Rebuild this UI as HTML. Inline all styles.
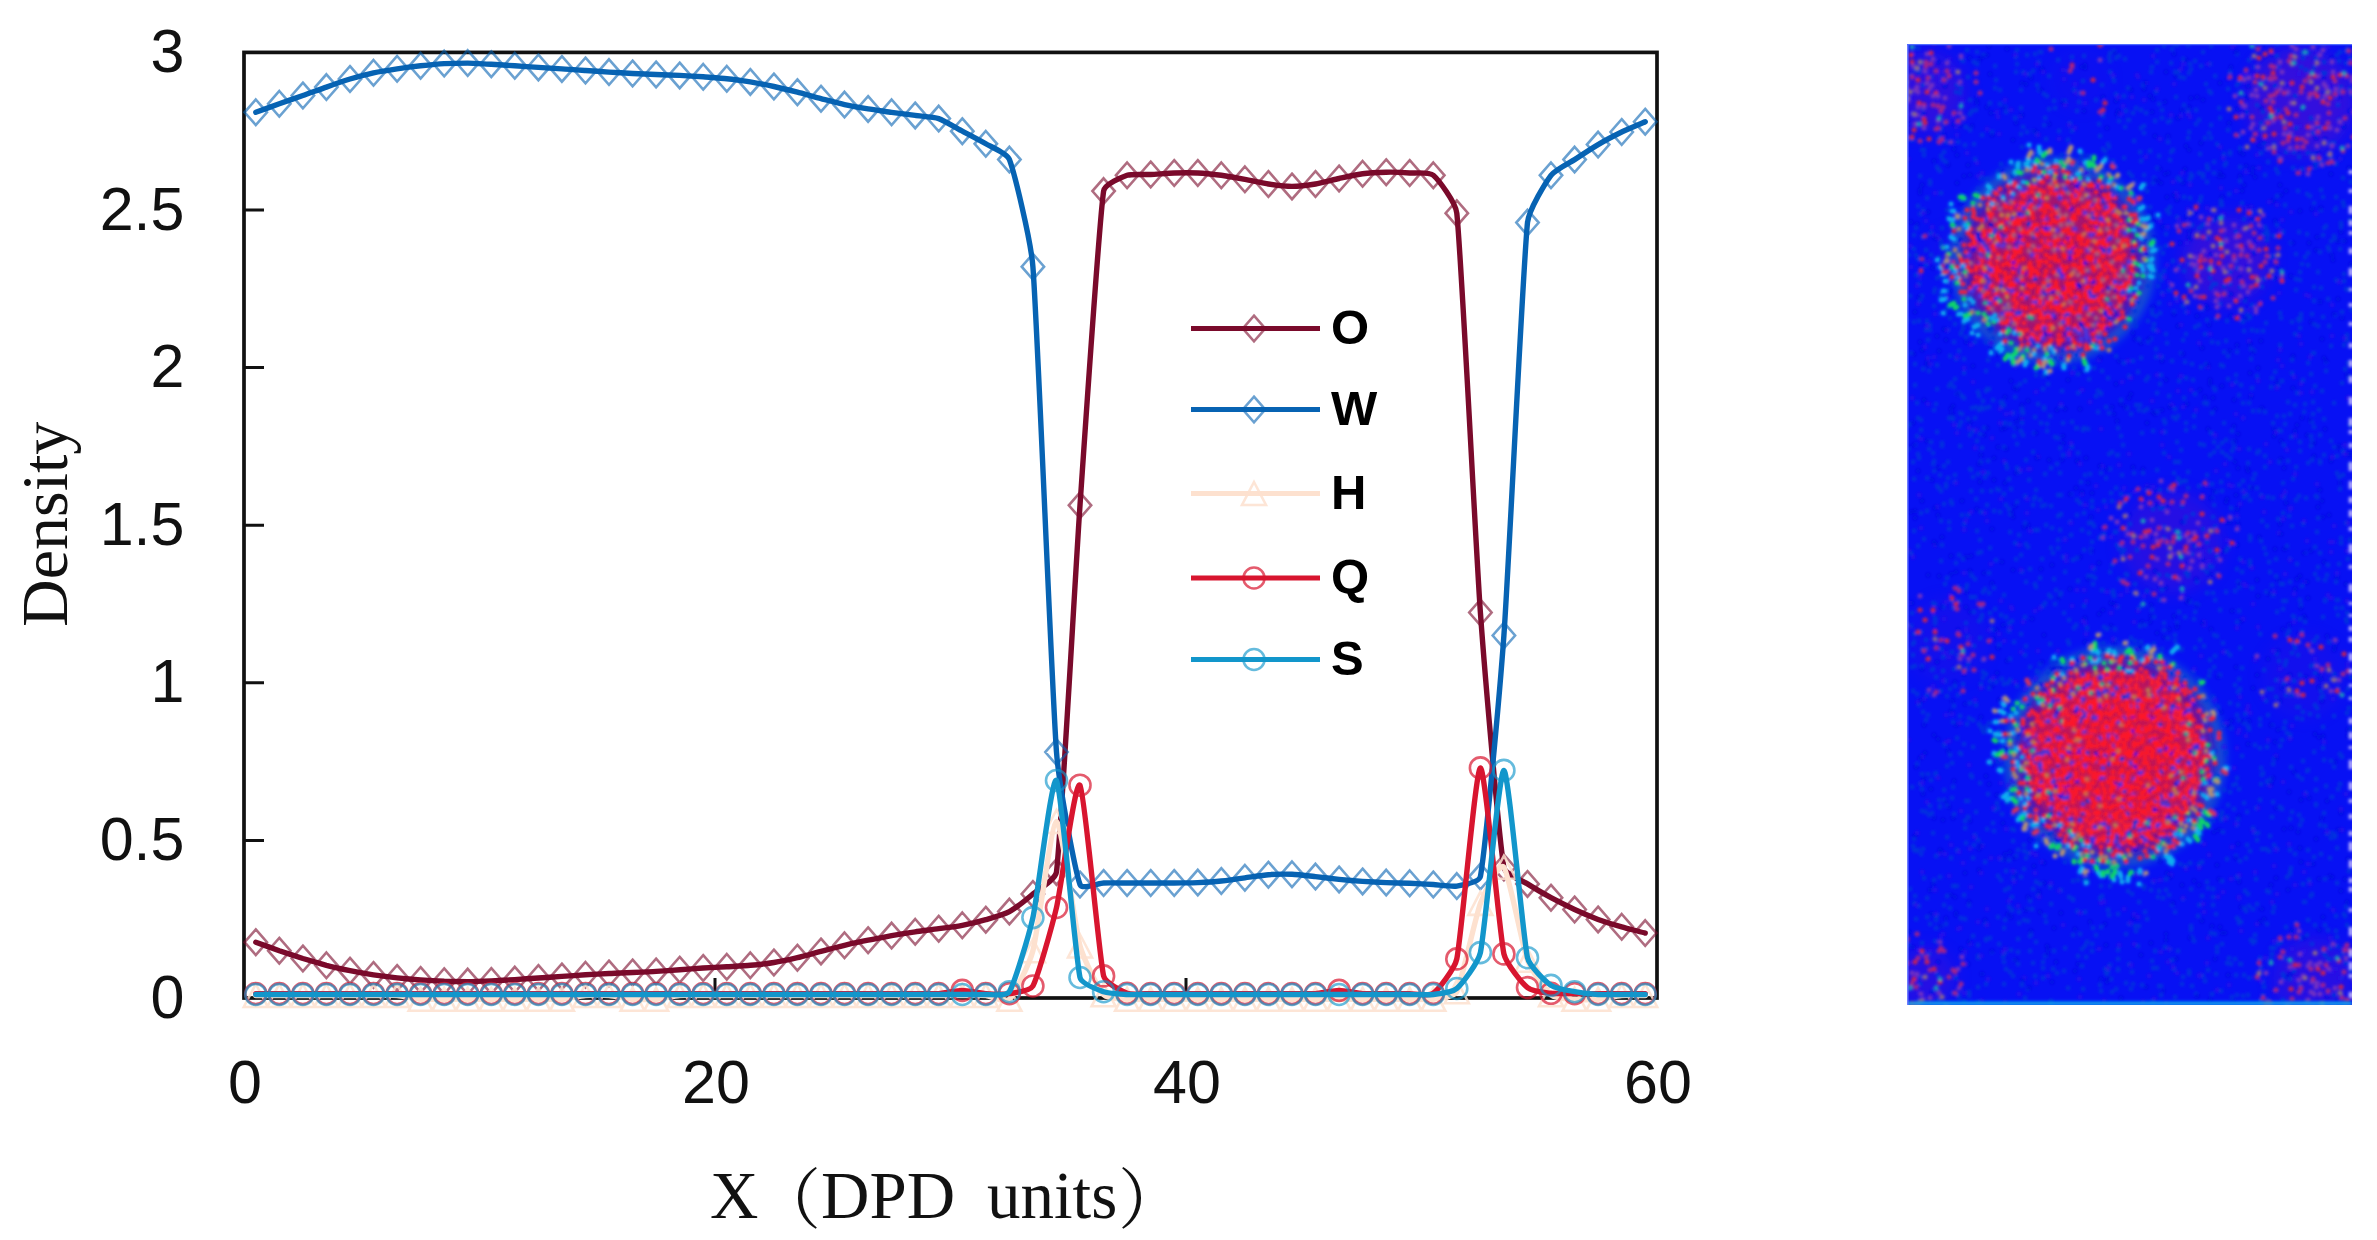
<!DOCTYPE html>
<html lang="en"><head><meta charset="utf-8"><title>Density profile</title>
<style>html,body{margin:0;padding:0;background:#fff}body{width:2377px;height:1240px;overflow:hidden}svg{display:block}.t{font-family:"Liberation Sans",sans-serif;font-size:61px;fill:#111}.s{font-family:"Liberation Serif","Noto Serif CJK SC",serif;font-size:67px;fill:#111}.p{font-family:"Noto Serif CJK SC","Liberation Serif",serif;font-size:66px;fill:#111}.l{font-family:"Liberation Sans",sans-serif;font-size:49px;font-weight:bold;fill:#000}</style></head><body>
<svg width="2377" height="1240" viewBox="0 0 2377 1240">
<rect width="2377" height="1240" fill="#fff"/>
<g fill="none" stroke="#111" stroke-width="3.7">
<rect x="244.0" y="52.4" width="1413.0" height="945.6"/>
<path stroke-width="3" d="M244.0 840.4 h20M244.0 682.8 h20M244.0 525.2 h20M244.0 367.6 h20M244.0 210.0 h20M715.0 998.0 v-20M1186.0 998.0 v-20"/>
</g>
<text class="t" x="184.5" y="1017.5" text-anchor="end">0</text>
<text class="t" x="184.5" y="859.9" text-anchor="end">0.5</text>
<text class="t" x="184.5" y="702.3" text-anchor="end">1</text>
<text class="t" x="184.5" y="544.7" text-anchor="end">1.5</text>
<text class="t" x="184.5" y="387.1" text-anchor="end">2</text>
<text class="t" x="184.5" y="229.5" text-anchor="end">2.5</text>
<text class="t" x="184.5" y="71.9" text-anchor="end">3</text>
<text class="t" x="245.0" y="1102.5" text-anchor="middle">0</text>
<text class="t" x="716.0" y="1102.5" text-anchor="middle">20</text>
<text class="t" x="1187.0" y="1102.5" text-anchor="middle">40</text>
<text class="t" x="1658.0" y="1102.5" text-anchor="middle">60</text>
<text class="s" style="font-size:66px" transform="translate(67 627) rotate(-90)">Density</text>
<text class="s" x="710" y="1218">X</text>
<text class="p" x="821" y="1222.5" text-anchor="end">（</text>
<text class="s" x="821" y="1218">DPD</text>
<text class="s" x="987" y="1218">units</text>
<text class="p" x="1118" y="1222.5">）</text>
<g fill="none" stroke-linejoin="round" stroke-linecap="round">
<path stroke="#7a0a2b" stroke-width="5.4" d="M255.8 942.2C258.1 943.1 274.6 949.0 279.3 950.7C284.0 952.3 298.2 957.0 302.9 958.5C307.6 959.9 321.7 964.0 326.4 965.3C331.1 966.5 345.3 969.7 350.0 970.7C354.7 971.7 368.8 974.2 373.5 974.9C378.2 975.6 392.4 977.4 397.1 977.9C401.8 978.4 415.9 979.6 420.6 979.9C425.3 980.2 439.5 981.0 444.2 981.2C448.9 981.3 463.0 981.6 467.7 981.6C472.4 981.6 486.6 981.1 491.3 980.9C496.0 980.7 510.1 979.9 514.8 979.6C519.5 979.3 533.7 978.3 538.4 978.0C543.1 977.7 557.2 976.7 561.9 976.4C566.6 976.1 580.8 975.1 585.5 974.8C590.2 974.5 604.3 973.7 609.0 973.5C613.7 973.2 627.9 972.7 632.6 972.5C637.3 972.3 651.4 971.7 656.1 971.4C660.8 971.1 675.0 970.1 679.7 969.7C684.4 969.4 698.5 968.3 703.2 968.0C707.9 967.7 722.1 967.0 726.8 966.8C731.5 966.5 745.6 965.7 750.3 965.3C755.0 964.9 769.2 963.3 773.9 962.5C778.6 961.8 792.7 958.8 797.4 957.7C802.1 956.6 816.3 952.6 821.0 951.4C825.7 950.1 839.8 946.4 844.5 945.3C849.2 944.2 863.4 941.1 868.1 940.2C872.8 939.2 886.9 936.5 891.6 935.6C896.3 934.8 910.5 932.5 915.2 931.8C919.9 931.1 934.0 929.4 938.7 928.7C943.4 928.1 957.6 926.2 962.3 925.3C967.0 924.4 981.1 921.1 985.8 919.7C990.5 918.3 1004.7 914.2 1009.4 911.6C1014.1 909.1 1028.2 898.0 1032.9 894.0C1037.6 890.0 1055.5 879.9 1056.5 871.9C1061.2 833.1 1075.3 573.4 1080.0 505.3C1084.7 437.3 1098.9 224.1 1103.6 191.1C1104.6 184.1 1122.4 177.0 1127.1 175.3C1131.8 173.7 1146.0 174.8 1150.7 174.5C1155.4 174.3 1169.5 173.1 1174.2 173.0C1178.9 172.8 1193.1 172.7 1197.8 173.0C1202.5 173.2 1216.6 174.7 1221.3 175.3C1226.0 176.0 1240.2 178.4 1244.9 179.3C1249.6 180.1 1263.7 183.3 1268.4 184.0C1273.1 184.7 1287.3 186.4 1292.0 186.4C1296.7 186.4 1310.8 184.8 1315.5 184.0C1320.2 183.2 1334.4 179.5 1339.1 178.5C1343.8 177.5 1357.9 174.4 1362.6 173.8C1367.3 173.1 1381.5 172.3 1386.2 172.2C1390.9 172.1 1405.0 172.6 1409.7 173.0C1414.4 173.3 1428.8 171.5 1433.3 175.3C1438.0 179.3 1455.6 202.1 1456.8 213.2C1461.5 256.9 1475.7 547.1 1480.4 612.5C1485.0 676.4 1499.2 840.4 1503.9 867.5C1505.2 874.6 1522.8 880.9 1527.5 883.9C1532.2 886.9 1546.3 895.1 1551.0 897.7C1555.7 900.2 1569.9 907.3 1574.6 909.5C1579.3 911.7 1593.4 917.6 1598.1 919.4C1602.8 921.1 1617.0 925.5 1621.7 926.8C1626.4 928.2 1642.9 932.4 1645.2 933.1"/>
<path stroke="#7a0a2b" stroke-opacity="0.6" stroke-width="2.6" stroke-linejoin="miter" d="M255.8 929.4 l11.2 12.8 l-11.2 12.8 l-11.2 -12.8 zM279.3 937.9 l11.2 12.8 l-11.2 12.8 l-11.2 -12.8 zM302.9 945.7 l11.2 12.8 l-11.2 12.8 l-11.2 -12.8 zM326.4 952.5 l11.2 12.8 l-11.2 12.8 l-11.2 -12.8 zM350.0 957.9 l11.2 12.8 l-11.2 12.8 l-11.2 -12.8 zM373.5 962.1 l11.2 12.8 l-11.2 12.8 l-11.2 -12.8 zM397.1 965.1 l11.2 12.8 l-11.2 12.8 l-11.2 -12.8 zM420.6 967.1 l11.2 12.8 l-11.2 12.8 l-11.2 -12.8 zM444.2 968.4 l11.2 12.8 l-11.2 12.8 l-11.2 -12.8 zM467.7 968.8 l11.2 12.8 l-11.2 12.8 l-11.2 -12.8 zM491.3 968.1 l11.2 12.8 l-11.2 12.8 l-11.2 -12.8 zM514.8 966.8 l11.2 12.8 l-11.2 12.8 l-11.2 -12.8 zM538.4 965.2 l11.2 12.8 l-11.2 12.8 l-11.2 -12.8 zM561.9 963.6 l11.2 12.8 l-11.2 12.8 l-11.2 -12.8 zM585.5 962.0 l11.2 12.8 l-11.2 12.8 l-11.2 -12.8 zM609.0 960.7 l11.2 12.8 l-11.2 12.8 l-11.2 -12.8 zM632.6 959.7 l11.2 12.8 l-11.2 12.8 l-11.2 -12.8 zM656.1 958.6 l11.2 12.8 l-11.2 12.8 l-11.2 -12.8 zM679.7 956.9 l11.2 12.8 l-11.2 12.8 l-11.2 -12.8 zM703.2 955.2 l11.2 12.8 l-11.2 12.8 l-11.2 -12.8 zM726.8 954.0 l11.2 12.8 l-11.2 12.8 l-11.2 -12.8 zM750.3 952.5 l11.2 12.8 l-11.2 12.8 l-11.2 -12.8 zM773.9 949.7 l11.2 12.8 l-11.2 12.8 l-11.2 -12.8 zM797.4 944.9 l11.2 12.8 l-11.2 12.8 l-11.2 -12.8 zM821.0 938.6 l11.2 12.8 l-11.2 12.8 l-11.2 -12.8 zM844.5 932.5 l11.2 12.8 l-11.2 12.8 l-11.2 -12.8 zM868.1 927.4 l11.2 12.8 l-11.2 12.8 l-11.2 -12.8 zM891.6 922.8 l11.2 12.8 l-11.2 12.8 l-11.2 -12.8 zM915.2 919.0 l11.2 12.8 l-11.2 12.8 l-11.2 -12.8 zM938.7 915.9 l11.2 12.8 l-11.2 12.8 l-11.2 -12.8 zM962.3 912.5 l11.2 12.8 l-11.2 12.8 l-11.2 -12.8 zM985.8 906.9 l11.2 12.8 l-11.2 12.8 l-11.2 -12.8 zM1009.4 898.8 l11.2 12.8 l-11.2 12.8 l-11.2 -12.8 zM1032.9 881.2 l11.2 12.8 l-11.2 12.8 l-11.2 -12.8 zM1056.5 859.1 l11.2 12.8 l-11.2 12.8 l-11.2 -12.8 zM1080.0 492.5 l11.2 12.8 l-11.2 12.8 l-11.2 -12.8 zM1103.6 178.3 l11.2 12.8 l-11.2 12.8 l-11.2 -12.8 zM1127.1 162.5 l11.2 12.8 l-11.2 12.8 l-11.2 -12.8 zM1150.7 161.7 l11.2 12.8 l-11.2 12.8 l-11.2 -12.8 zM1174.2 160.2 l11.2 12.8 l-11.2 12.8 l-11.2 -12.8 zM1197.8 160.2 l11.2 12.8 l-11.2 12.8 l-11.2 -12.8 zM1221.3 162.5 l11.2 12.8 l-11.2 12.8 l-11.2 -12.8 zM1244.9 166.5 l11.2 12.8 l-11.2 12.8 l-11.2 -12.8 zM1268.4 171.2 l11.2 12.8 l-11.2 12.8 l-11.2 -12.8 zM1292.0 173.6 l11.2 12.8 l-11.2 12.8 l-11.2 -12.8 zM1315.5 171.2 l11.2 12.8 l-11.2 12.8 l-11.2 -12.8 zM1339.1 165.7 l11.2 12.8 l-11.2 12.8 l-11.2 -12.8 zM1362.6 161.0 l11.2 12.8 l-11.2 12.8 l-11.2 -12.8 zM1386.2 159.4 l11.2 12.8 l-11.2 12.8 l-11.2 -12.8 zM1409.7 160.2 l11.2 12.8 l-11.2 12.8 l-11.2 -12.8 zM1433.3 162.5 l11.2 12.8 l-11.2 12.8 l-11.2 -12.8 zM1456.8 200.4 l11.2 12.8 l-11.2 12.8 l-11.2 -12.8 zM1480.4 599.7 l11.2 12.8 l-11.2 12.8 l-11.2 -12.8 zM1503.9 854.7 l11.2 12.8 l-11.2 12.8 l-11.2 -12.8 zM1527.5 871.1 l11.2 12.8 l-11.2 12.8 l-11.2 -12.8 zM1551.0 884.9 l11.2 12.8 l-11.2 12.8 l-11.2 -12.8 zM1574.6 896.7 l11.2 12.8 l-11.2 12.8 l-11.2 -12.8 zM1598.1 906.6 l11.2 12.8 l-11.2 12.8 l-11.2 -12.8 zM1621.7 914.0 l11.2 12.8 l-11.2 12.8 l-11.2 -12.8 zM1645.2 920.3 l11.2 12.8 l-11.2 12.8 l-11.2 -12.8 z"/>
<path stroke="#0763b3" stroke-width="5.4" d="M255.8 112.3C258.1 111.4 274.6 105.5 279.3 103.8C284.0 102.1 298.2 97.2 302.9 95.5C307.6 93.9 321.7 88.7 326.4 87.1C331.1 85.4 345.3 80.4 350.0 79.0C354.7 77.6 368.8 73.8 373.5 72.8C378.2 71.8 392.4 69.5 397.1 68.8C401.8 68.1 415.9 66.3 420.6 65.8C425.3 65.3 439.5 63.9 444.2 63.6C448.9 63.4 463.0 63.1 467.7 63.1C472.4 63.2 486.6 64.0 491.3 64.2C496.0 64.5 510.1 65.5 514.8 65.8C519.5 66.1 533.7 67.1 538.4 67.4C543.1 67.7 557.2 68.6 561.9 68.9C566.6 69.3 580.8 70.2 585.5 70.5C590.2 70.8 604.3 71.8 609.0 72.1C613.7 72.4 627.9 73.2 632.6 73.5C637.3 73.7 651.4 74.3 656.1 74.5C660.8 74.7 675.0 75.2 679.7 75.4C684.4 75.7 698.5 76.5 703.2 76.8C707.9 77.2 722.1 78.3 726.8 78.8C731.5 79.3 745.6 81.2 750.3 81.9C755.0 82.7 769.2 85.5 773.9 86.5C778.6 87.5 792.7 91.0 797.4 92.2C802.1 93.4 816.3 97.5 821.0 98.7C825.7 99.9 839.8 103.6 844.5 104.6C849.2 105.6 863.4 108.2 868.1 108.9C872.8 109.7 886.9 111.6 891.6 112.3C896.3 112.9 910.5 114.8 915.2 115.4C919.9 116.1 934.0 117.0 938.7 118.6C943.4 120.2 957.6 128.7 962.3 131.2C967.0 133.7 981.1 141.0 985.8 143.8C990.5 146.6 1006.8 153.0 1009.4 159.6C1014.1 171.9 1030.8 239.4 1032.9 266.7C1037.6 326.0 1051.8 690.4 1056.5 752.1C1059.0 785.7 1075.3 871.4 1080.0 884.5C1082.0 890.1 1098.9 883.1 1103.6 883.0C1108.3 882.8 1122.4 883.0 1127.1 883.0C1131.8 883.0 1146.0 883.0 1150.7 883.0C1155.4 883.0 1169.5 883.0 1174.2 883.0C1178.9 882.9 1193.1 882.8 1197.8 882.6C1202.5 882.4 1216.6 881.5 1221.3 881.0C1226.0 880.5 1240.2 878.5 1244.9 877.8C1249.6 877.2 1263.7 875.0 1268.4 874.7C1273.1 874.3 1287.3 874.1 1292.0 874.3C1296.7 874.5 1310.8 876.1 1315.5 876.6C1320.2 877.2 1334.4 878.9 1339.1 879.4C1343.8 879.9 1357.9 881.1 1362.6 881.4C1367.3 881.7 1381.5 882.4 1386.2 882.6C1390.9 882.8 1405.0 883.1 1409.7 883.3C1414.4 883.5 1428.6 884.3 1433.3 884.5C1438.0 884.8 1452.1 886.9 1456.8 886.1C1461.5 885.3 1479.2 882.9 1480.4 876.6C1485.1 851.6 1499.6 695.9 1503.9 635.5C1508.6 570.1 1522.8 268.6 1527.5 222.6C1528.8 209.5 1546.3 181.6 1551.0 175.3C1555.3 169.7 1569.9 162.6 1574.6 159.6C1579.3 156.5 1593.4 147.4 1598.1 144.6C1602.8 141.8 1617.0 134.3 1621.7 132.0C1626.4 129.7 1642.9 122.8 1645.2 121.7"/>
<path stroke="#0763b3" stroke-opacity="0.6" stroke-width="2.6" stroke-linejoin="miter" d="M255.8 99.5 l11.2 12.8 l-11.2 12.8 l-11.2 -12.8 zM279.3 91.0 l11.2 12.8 l-11.2 12.8 l-11.2 -12.8 zM302.9 82.7 l11.2 12.8 l-11.2 12.8 l-11.2 -12.8 zM326.4 74.3 l11.2 12.8 l-11.2 12.8 l-11.2 -12.8 zM350.0 66.2 l11.2 12.8 l-11.2 12.8 l-11.2 -12.8 zM373.5 60.0 l11.2 12.8 l-11.2 12.8 l-11.2 -12.8 zM397.1 56.0 l11.2 12.8 l-11.2 12.8 l-11.2 -12.8 zM420.6 53.0 l11.2 12.8 l-11.2 12.8 l-11.2 -12.8 zM444.2 50.8 l11.2 12.8 l-11.2 12.8 l-11.2 -12.8 zM467.7 50.3 l11.2 12.8 l-11.2 12.8 l-11.2 -12.8 zM491.3 51.4 l11.2 12.8 l-11.2 12.8 l-11.2 -12.8 zM514.8 53.0 l11.2 12.8 l-11.2 12.8 l-11.2 -12.8 zM538.4 54.6 l11.2 12.8 l-11.2 12.8 l-11.2 -12.8 zM561.9 56.1 l11.2 12.8 l-11.2 12.8 l-11.2 -12.8 zM585.5 57.7 l11.2 12.8 l-11.2 12.8 l-11.2 -12.8 zM609.0 59.3 l11.2 12.8 l-11.2 12.8 l-11.2 -12.8 zM632.6 60.7 l11.2 12.8 l-11.2 12.8 l-11.2 -12.8 zM656.1 61.7 l11.2 12.8 l-11.2 12.8 l-11.2 -12.8 zM679.7 62.6 l11.2 12.8 l-11.2 12.8 l-11.2 -12.8 zM703.2 64.0 l11.2 12.8 l-11.2 12.8 l-11.2 -12.8 zM726.8 66.0 l11.2 12.8 l-11.2 12.8 l-11.2 -12.8 zM750.3 69.1 l11.2 12.8 l-11.2 12.8 l-11.2 -12.8 zM773.9 73.7 l11.2 12.8 l-11.2 12.8 l-11.2 -12.8 zM797.4 79.4 l11.2 12.8 l-11.2 12.8 l-11.2 -12.8 zM821.0 85.9 l11.2 12.8 l-11.2 12.8 l-11.2 -12.8 zM844.5 91.8 l11.2 12.8 l-11.2 12.8 l-11.2 -12.8 zM868.1 96.1 l11.2 12.8 l-11.2 12.8 l-11.2 -12.8 zM891.6 99.5 l11.2 12.8 l-11.2 12.8 l-11.2 -12.8 zM915.2 102.6 l11.2 12.8 l-11.2 12.8 l-11.2 -12.8 zM938.7 105.8 l11.2 12.8 l-11.2 12.8 l-11.2 -12.8 zM962.3 118.4 l11.2 12.8 l-11.2 12.8 l-11.2 -12.8 zM985.8 131.0 l11.2 12.8 l-11.2 12.8 l-11.2 -12.8 zM1009.4 146.8 l11.2 12.8 l-11.2 12.8 l-11.2 -12.8 zM1032.9 253.9 l11.2 12.8 l-11.2 12.8 l-11.2 -12.8 zM1056.5 739.3 l11.2 12.8 l-11.2 12.8 l-11.2 -12.8 zM1080.0 871.7 l11.2 12.8 l-11.2 12.8 l-11.2 -12.8 zM1103.6 870.2 l11.2 12.8 l-11.2 12.8 l-11.2 -12.8 zM1127.1 870.2 l11.2 12.8 l-11.2 12.8 l-11.2 -12.8 zM1150.7 870.2 l11.2 12.8 l-11.2 12.8 l-11.2 -12.8 zM1174.2 870.2 l11.2 12.8 l-11.2 12.8 l-11.2 -12.8 zM1197.8 869.8 l11.2 12.8 l-11.2 12.8 l-11.2 -12.8 zM1221.3 868.2 l11.2 12.8 l-11.2 12.8 l-11.2 -12.8 zM1244.9 865.0 l11.2 12.8 l-11.2 12.8 l-11.2 -12.8 zM1268.4 861.9 l11.2 12.8 l-11.2 12.8 l-11.2 -12.8 zM1292.0 861.5 l11.2 12.8 l-11.2 12.8 l-11.2 -12.8 zM1315.5 863.8 l11.2 12.8 l-11.2 12.8 l-11.2 -12.8 zM1339.1 866.6 l11.2 12.8 l-11.2 12.8 l-11.2 -12.8 zM1362.6 868.6 l11.2 12.8 l-11.2 12.8 l-11.2 -12.8 zM1386.2 869.8 l11.2 12.8 l-11.2 12.8 l-11.2 -12.8 zM1409.7 870.5 l11.2 12.8 l-11.2 12.8 l-11.2 -12.8 zM1433.3 871.7 l11.2 12.8 l-11.2 12.8 l-11.2 -12.8 zM1456.8 873.3 l11.2 12.8 l-11.2 12.8 l-11.2 -12.8 zM1480.4 863.8 l11.2 12.8 l-11.2 12.8 l-11.2 -12.8 zM1503.9 622.7 l11.2 12.8 l-11.2 12.8 l-11.2 -12.8 zM1527.5 209.8 l11.2 12.8 l-11.2 12.8 l-11.2 -12.8 zM1551.0 162.5 l11.2 12.8 l-11.2 12.8 l-11.2 -12.8 zM1574.6 146.8 l11.2 12.8 l-11.2 12.8 l-11.2 -12.8 zM1598.1 131.8 l11.2 12.8 l-11.2 12.8 l-11.2 -12.8 zM1621.7 119.2 l11.2 12.8 l-11.2 12.8 l-11.2 -12.8 zM1645.2 108.9 l11.2 12.8 l-11.2 12.8 l-11.2 -12.8 z"/>
<path stroke="#fde1cf" stroke-width="5.4" d="M255.8 995.5C258.1 995.5 274.6 995.5 279.3 995.5C284.0 995.5 298.2 995.5 302.9 995.5C307.6 995.5 321.7 995.5 326.4 995.5C331.1 995.5 345.3 995.5 350.0 995.5C354.7 995.5 368.8 995.5 373.5 995.5C378.2 995.5 392.4 995.1 397.1 995.5C401.8 995.9 415.9 998.9 420.6 999.3C425.3 999.6 439.5 999.3 444.2 999.3C448.9 999.3 463.0 999.3 467.7 999.3C472.4 999.3 486.6 999.3 491.3 999.3C496.0 999.3 510.1 999.3 514.8 999.3C519.5 999.3 533.7 999.3 538.4 999.3C543.1 999.3 557.2 999.6 561.9 999.3C566.6 998.9 580.8 995.9 585.5 995.5C590.2 995.1 604.3 995.1 609.0 995.5C613.7 995.9 627.9 998.9 632.6 999.3C637.3 999.6 651.4 999.6 656.1 999.3C660.8 998.9 675.0 995.9 679.7 995.5C684.4 995.1 698.5 995.5 703.2 995.5C707.9 995.5 722.1 995.5 726.8 995.5C731.5 995.5 745.6 995.5 750.3 995.5C755.0 995.5 769.2 995.5 773.9 995.5C778.6 995.5 792.7 995.5 797.4 995.5C802.1 995.5 816.3 995.5 821.0 995.5C825.7 995.5 839.8 995.5 844.5 995.5C849.2 995.5 863.4 995.5 868.1 995.5C872.8 995.5 886.9 995.5 891.6 995.5C896.3 995.5 910.5 995.5 915.2 995.5C919.9 995.5 934.0 995.5 938.7 995.5C943.4 995.5 957.6 995.5 962.3 995.5C967.0 995.5 981.1 995.1 985.8 995.5C990.5 995.9 1005.1 1003.4 1009.4 999.3C1014.1 994.8 1029.5 963.8 1032.9 950.7C1037.6 932.9 1051.8 822.0 1056.5 821.5C1061.2 821.0 1075.3 928.7 1080.0 946.0C1083.6 959.1 1098.9 989.5 1103.6 994.8C1107.5 999.3 1122.4 998.8 1127.1 999.3C1131.8 999.7 1146.0 999.3 1150.7 999.3C1155.4 999.3 1169.5 999.3 1174.2 999.3C1178.9 999.3 1193.1 999.3 1197.8 999.3C1202.5 999.3 1216.6 999.3 1221.3 999.3C1226.0 999.3 1240.2 999.3 1244.9 999.3C1249.6 999.3 1263.7 999.3 1268.4 999.3C1273.1 999.3 1287.3 999.3 1292.0 999.3C1296.7 999.3 1310.8 999.3 1315.5 999.3C1320.2 999.3 1334.4 999.3 1339.1 999.3C1343.8 999.3 1357.9 999.3 1362.6 999.3C1367.3 999.3 1381.5 999.3 1386.2 999.3C1390.9 999.3 1405.0 999.3 1409.7 999.3C1414.4 999.3 1428.6 1000.0 1433.3 999.3C1438.0 998.5 1454.1 997.2 1456.8 991.7C1461.5 982.1 1475.7 915.9 1480.4 903.4C1484.2 893.3 1499.2 861.5 1503.9 867.2C1508.6 872.9 1522.8 947.4 1527.5 960.2C1531.1 970.0 1546.3 990.9 1551.0 994.8C1555.6 998.7 1569.9 998.8 1574.6 999.3C1579.3 999.7 1593.4 999.6 1598.1 999.3C1602.8 998.9 1617.0 995.9 1621.7 995.5C1626.4 995.1 1642.9 995.5 1645.2 995.5"/>
<path stroke="#fde1cf" stroke-opacity="0.85" stroke-width="2.6" stroke-linejoin="miter" d="M255.8 984.0 l12 23 h-24 zM279.3 984.0 l12 23 h-24 zM302.9 984.0 l12 23 h-24 zM326.4 984.0 l12 23 h-24 zM350.0 984.0 l12 23 h-24 zM373.5 984.0 l12 23 h-24 zM397.1 984.0 l12 23 h-24 zM420.6 987.8 l12 23 h-24 zM444.2 987.8 l12 23 h-24 zM467.7 987.8 l12 23 h-24 zM491.3 987.8 l12 23 h-24 zM514.8 987.8 l12 23 h-24 zM538.4 987.8 l12 23 h-24 zM561.9 987.8 l12 23 h-24 zM585.5 984.0 l12 23 h-24 zM609.0 984.0 l12 23 h-24 zM632.6 987.8 l12 23 h-24 zM656.1 987.8 l12 23 h-24 zM679.7 984.0 l12 23 h-24 zM703.2 984.0 l12 23 h-24 zM726.8 984.0 l12 23 h-24 zM750.3 984.0 l12 23 h-24 zM773.9 984.0 l12 23 h-24 zM797.4 984.0 l12 23 h-24 zM821.0 984.0 l12 23 h-24 zM844.5 984.0 l12 23 h-24 zM868.1 984.0 l12 23 h-24 zM891.6 984.0 l12 23 h-24 zM915.2 984.0 l12 23 h-24 zM938.7 984.0 l12 23 h-24 zM962.3 984.0 l12 23 h-24 zM985.8 984.0 l12 23 h-24 zM1009.4 987.8 l12 23 h-24 zM1032.9 939.2 l12 23 h-24 zM1056.5 810.0 l12 23 h-24 zM1080.0 934.5 l12 23 h-24 zM1103.6 983.3 l12 23 h-24 zM1127.1 987.8 l12 23 h-24 zM1150.7 987.8 l12 23 h-24 zM1174.2 987.8 l12 23 h-24 zM1197.8 987.8 l12 23 h-24 zM1221.3 987.8 l12 23 h-24 zM1244.9 987.8 l12 23 h-24 zM1268.4 987.8 l12 23 h-24 zM1292.0 987.8 l12 23 h-24 zM1315.5 987.8 l12 23 h-24 zM1339.1 987.8 l12 23 h-24 zM1362.6 987.8 l12 23 h-24 zM1386.2 987.8 l12 23 h-24 zM1409.7 987.8 l12 23 h-24 zM1433.3 987.8 l12 23 h-24 zM1456.8 980.2 l12 23 h-24 zM1480.4 891.9 l12 23 h-24 zM1503.9 855.7 l12 23 h-24 zM1527.5 948.7 l12 23 h-24 zM1551.0 983.3 l12 23 h-24 zM1574.6 987.8 l12 23 h-24 zM1598.1 987.8 l12 23 h-24 zM1621.7 984.0 l12 23 h-24 zM1645.2 984.0 l12 23 h-24 z"/>
<path stroke="#d8152f" stroke-width="5.4" d="M255.8 993.6C258.1 993.6 274.6 993.6 279.3 993.6C284.0 993.6 298.2 993.6 302.9 993.6C307.6 993.6 321.7 993.6 326.4 993.6C331.1 993.6 345.3 993.6 350.0 993.6C354.7 993.6 368.8 993.6 373.5 993.6C378.2 993.6 392.4 993.6 397.1 993.6C401.8 993.6 415.9 993.6 420.6 993.6C425.3 993.6 439.5 993.6 444.2 993.6C448.9 993.6 463.0 993.6 467.7 993.6C472.4 993.6 486.6 993.6 491.3 993.6C496.0 993.6 510.1 993.6 514.8 993.6C519.5 993.6 533.7 993.6 538.4 993.6C543.1 993.6 557.2 993.6 561.9 993.6C566.6 993.6 580.8 993.6 585.5 993.6C590.2 993.6 604.3 993.6 609.0 993.6C613.7 993.6 627.9 993.6 632.6 993.6C637.3 993.6 651.4 993.6 656.1 993.6C660.8 993.6 675.0 993.6 679.7 993.6C684.4 993.6 698.5 993.6 703.2 993.6C707.9 993.6 722.1 993.6 726.8 993.6C731.5 993.6 745.6 993.6 750.3 993.6C755.0 993.6 769.2 993.6 773.9 993.6C778.6 993.6 792.7 993.6 797.4 993.6C802.1 993.6 816.3 993.6 821.0 993.6C825.7 993.6 839.8 993.6 844.5 993.6C849.2 993.6 863.4 993.6 868.1 993.6C872.8 993.6 886.9 993.6 891.6 993.6C896.3 993.6 910.5 993.6 915.2 993.6C919.9 993.6 934.0 993.9 938.7 993.6C943.4 993.3 957.6 990.4 962.3 990.4C967.0 990.4 981.1 993.3 985.8 993.6C990.5 993.9 1004.7 994.3 1009.4 993.6C1014.1 992.8 1030.0 991.4 1032.9 986.0C1037.6 977.4 1051.8 927.5 1056.5 907.5C1061.2 887.5 1075.3 778.4 1080.0 785.2C1084.7 792.1 1098.9 955.1 1103.6 975.9C1105.2 983.1 1122.4 991.5 1127.1 993.3C1131.8 995.0 1146.0 993.6 1150.7 993.6C1155.4 993.6 1169.5 993.6 1174.2 993.6C1178.9 993.6 1193.1 993.6 1197.8 993.6C1202.5 993.6 1216.6 993.6 1221.3 993.6C1226.0 993.6 1240.2 993.6 1244.9 993.6C1249.6 993.6 1263.7 993.6 1268.4 993.6C1273.1 993.6 1287.3 993.6 1292.0 993.6C1296.7 993.6 1310.8 993.9 1315.5 993.6C1320.2 993.3 1334.4 990.4 1339.1 990.4C1343.8 990.4 1357.9 993.3 1362.6 993.6C1367.3 993.9 1381.5 993.6 1386.2 993.6C1390.9 993.6 1405.0 993.6 1409.7 993.6C1414.4 993.6 1428.6 996.7 1433.3 993.3C1438.0 989.8 1454.7 969.1 1456.8 958.9C1461.5 936.4 1475.7 768.4 1480.4 767.9C1485.1 767.4 1499.2 931.9 1503.9 953.9C1506.1 963.9 1522.8 983.7 1527.5 987.6C1532.1 991.5 1546.3 992.7 1551.0 993.3C1555.7 993.9 1569.9 993.6 1574.6 993.6C1579.3 993.6 1593.4 993.6 1598.1 993.6C1602.8 993.6 1617.0 993.6 1621.7 993.6C1626.4 993.6 1642.9 993.6 1645.2 993.6"/>
<path stroke="#d8152f" stroke-opacity="0.7" stroke-width="2.6" stroke-linejoin="miter" d="M245.3 993.6 a10.5 10.5 0 1 0 21 0 a10.5 10.5 0 1 0 -21 0M268.8 993.6 a10.5 10.5 0 1 0 21 0 a10.5 10.5 0 1 0 -21 0M292.4 993.6 a10.5 10.5 0 1 0 21 0 a10.5 10.5 0 1 0 -21 0M315.9 993.6 a10.5 10.5 0 1 0 21 0 a10.5 10.5 0 1 0 -21 0M339.5 993.6 a10.5 10.5 0 1 0 21 0 a10.5 10.5 0 1 0 -21 0M363.0 993.6 a10.5 10.5 0 1 0 21 0 a10.5 10.5 0 1 0 -21 0M386.6 993.6 a10.5 10.5 0 1 0 21 0 a10.5 10.5 0 1 0 -21 0M410.1 993.6 a10.5 10.5 0 1 0 21 0 a10.5 10.5 0 1 0 -21 0M433.7 993.6 a10.5 10.5 0 1 0 21 0 a10.5 10.5 0 1 0 -21 0M457.2 993.6 a10.5 10.5 0 1 0 21 0 a10.5 10.5 0 1 0 -21 0M480.8 993.6 a10.5 10.5 0 1 0 21 0 a10.5 10.5 0 1 0 -21 0M504.3 993.6 a10.5 10.5 0 1 0 21 0 a10.5 10.5 0 1 0 -21 0M527.9 993.6 a10.5 10.5 0 1 0 21 0 a10.5 10.5 0 1 0 -21 0M551.4 993.6 a10.5 10.5 0 1 0 21 0 a10.5 10.5 0 1 0 -21 0M575.0 993.6 a10.5 10.5 0 1 0 21 0 a10.5 10.5 0 1 0 -21 0M598.5 993.6 a10.5 10.5 0 1 0 21 0 a10.5 10.5 0 1 0 -21 0M622.1 993.6 a10.5 10.5 0 1 0 21 0 a10.5 10.5 0 1 0 -21 0M645.6 993.6 a10.5 10.5 0 1 0 21 0 a10.5 10.5 0 1 0 -21 0M669.2 993.6 a10.5 10.5 0 1 0 21 0 a10.5 10.5 0 1 0 -21 0M692.7 993.6 a10.5 10.5 0 1 0 21 0 a10.5 10.5 0 1 0 -21 0M716.3 993.6 a10.5 10.5 0 1 0 21 0 a10.5 10.5 0 1 0 -21 0M739.8 993.6 a10.5 10.5 0 1 0 21 0 a10.5 10.5 0 1 0 -21 0M763.4 993.6 a10.5 10.5 0 1 0 21 0 a10.5 10.5 0 1 0 -21 0M786.9 993.6 a10.5 10.5 0 1 0 21 0 a10.5 10.5 0 1 0 -21 0M810.5 993.6 a10.5 10.5 0 1 0 21 0 a10.5 10.5 0 1 0 -21 0M834.0 993.6 a10.5 10.5 0 1 0 21 0 a10.5 10.5 0 1 0 -21 0M857.6 993.6 a10.5 10.5 0 1 0 21 0 a10.5 10.5 0 1 0 -21 0M881.1 993.6 a10.5 10.5 0 1 0 21 0 a10.5 10.5 0 1 0 -21 0M904.7 993.6 a10.5 10.5 0 1 0 21 0 a10.5 10.5 0 1 0 -21 0M928.2 993.6 a10.5 10.5 0 1 0 21 0 a10.5 10.5 0 1 0 -21 0M951.8 990.4 a10.5 10.5 0 1 0 21 0 a10.5 10.5 0 1 0 -21 0M975.3 993.6 a10.5 10.5 0 1 0 21 0 a10.5 10.5 0 1 0 -21 0M998.9 993.6 a10.5 10.5 0 1 0 21 0 a10.5 10.5 0 1 0 -21 0M1022.4 986.0 a10.5 10.5 0 1 0 21 0 a10.5 10.5 0 1 0 -21 0M1046.0 907.5 a10.5 10.5 0 1 0 21 0 a10.5 10.5 0 1 0 -21 0M1069.5 785.2 a10.5 10.5 0 1 0 21 0 a10.5 10.5 0 1 0 -21 0M1093.1 975.9 a10.5 10.5 0 1 0 21 0 a10.5 10.5 0 1 0 -21 0M1116.6 993.3 a10.5 10.5 0 1 0 21 0 a10.5 10.5 0 1 0 -21 0M1140.2 993.6 a10.5 10.5 0 1 0 21 0 a10.5 10.5 0 1 0 -21 0M1163.7 993.6 a10.5 10.5 0 1 0 21 0 a10.5 10.5 0 1 0 -21 0M1187.3 993.6 a10.5 10.5 0 1 0 21 0 a10.5 10.5 0 1 0 -21 0M1210.8 993.6 a10.5 10.5 0 1 0 21 0 a10.5 10.5 0 1 0 -21 0M1234.4 993.6 a10.5 10.5 0 1 0 21 0 a10.5 10.5 0 1 0 -21 0M1257.9 993.6 a10.5 10.5 0 1 0 21 0 a10.5 10.5 0 1 0 -21 0M1281.5 993.6 a10.5 10.5 0 1 0 21 0 a10.5 10.5 0 1 0 -21 0M1305.0 993.6 a10.5 10.5 0 1 0 21 0 a10.5 10.5 0 1 0 -21 0M1328.6 990.4 a10.5 10.5 0 1 0 21 0 a10.5 10.5 0 1 0 -21 0M1352.1 993.6 a10.5 10.5 0 1 0 21 0 a10.5 10.5 0 1 0 -21 0M1375.7 993.6 a10.5 10.5 0 1 0 21 0 a10.5 10.5 0 1 0 -21 0M1399.2 993.6 a10.5 10.5 0 1 0 21 0 a10.5 10.5 0 1 0 -21 0M1422.8 993.3 a10.5 10.5 0 1 0 21 0 a10.5 10.5 0 1 0 -21 0M1446.3 958.9 a10.5 10.5 0 1 0 21 0 a10.5 10.5 0 1 0 -21 0M1469.9 767.9 a10.5 10.5 0 1 0 21 0 a10.5 10.5 0 1 0 -21 0M1493.4 953.9 a10.5 10.5 0 1 0 21 0 a10.5 10.5 0 1 0 -21 0M1517.0 987.6 a10.5 10.5 0 1 0 21 0 a10.5 10.5 0 1 0 -21 0M1540.5 993.3 a10.5 10.5 0 1 0 21 0 a10.5 10.5 0 1 0 -21 0M1564.1 993.6 a10.5 10.5 0 1 0 21 0 a10.5 10.5 0 1 0 -21 0M1587.6 993.6 a10.5 10.5 0 1 0 21 0 a10.5 10.5 0 1 0 -21 0M1611.2 993.6 a10.5 10.5 0 1 0 21 0 a10.5 10.5 0 1 0 -21 0M1634.7 993.6 a10.5 10.5 0 1 0 21 0 a10.5 10.5 0 1 0 -21 0"/>
<path stroke="#1296cb" stroke-width="5.4" d="M255.8 994.5C258.1 994.5 274.6 994.5 279.3 994.5C284.0 994.5 298.2 994.5 302.9 994.5C307.6 994.5 321.7 994.5 326.4 994.5C331.1 994.5 345.3 994.5 350.0 994.5C354.7 994.5 368.8 994.5 373.5 994.5C378.2 994.5 392.4 994.5 397.1 994.5C401.8 994.5 415.9 994.5 420.6 994.5C425.3 994.5 439.5 994.5 444.2 994.5C448.9 994.5 463.0 994.5 467.7 994.5C472.4 994.5 486.6 994.5 491.3 994.5C496.0 994.5 510.1 994.5 514.8 994.5C519.5 994.5 533.7 994.5 538.4 994.5C543.1 994.5 557.2 994.5 561.9 994.5C566.6 994.5 580.8 994.5 585.5 994.5C590.2 994.5 604.3 994.5 609.0 994.5C613.7 994.5 627.9 994.5 632.6 994.5C637.3 994.5 651.4 994.5 656.1 994.5C660.8 994.5 675.0 994.5 679.7 994.5C684.4 994.5 698.5 994.5 703.2 994.5C707.9 994.5 722.1 994.5 726.8 994.5C731.5 994.5 745.6 994.5 750.3 994.5C755.0 994.5 769.2 994.5 773.9 994.5C778.6 994.5 792.7 994.5 797.4 994.5C802.1 994.5 816.3 994.5 821.0 994.5C825.7 994.5 839.8 994.5 844.5 994.5C849.2 994.5 863.4 994.5 868.1 994.5C872.8 994.5 886.9 994.5 891.6 994.5C896.3 994.5 910.5 994.5 915.2 994.5C919.9 994.5 934.0 994.5 938.7 994.5C943.4 994.5 957.6 994.5 962.3 994.5C967.0 994.5 981.1 994.8 985.8 994.5C990.5 994.2 1006.3 996.8 1009.4 991.7C1014.1 984.0 1028.7 936.6 1032.9 917.6C1037.6 896.5 1051.8 774.5 1056.5 780.5C1061.2 786.5 1075.3 956.4 1080.0 977.5C1081.5 984.2 1098.9 990.0 1103.6 991.7C1108.3 993.4 1122.4 994.2 1127.1 994.5C1131.8 994.8 1146.0 994.5 1150.7 994.5C1155.4 994.5 1169.5 994.5 1174.2 994.5C1178.9 994.5 1193.1 994.5 1197.8 994.5C1202.5 994.5 1216.6 994.5 1221.3 994.5C1226.0 994.5 1240.2 994.5 1244.9 994.5C1249.6 994.5 1263.7 994.5 1268.4 994.5C1273.1 994.5 1287.3 994.5 1292.0 994.5C1296.7 994.5 1310.8 994.5 1315.5 994.5C1320.2 994.5 1334.4 994.5 1339.1 994.5C1343.8 994.5 1357.9 994.5 1362.6 994.5C1367.3 994.5 1381.5 994.5 1386.2 994.5C1390.9 994.5 1405.0 994.5 1409.7 994.5C1414.4 994.5 1428.6 995.1 1433.3 994.5C1438.0 993.9 1452.3 992.6 1456.8 988.5C1461.5 984.4 1478.1 963.1 1480.4 952.6C1485.1 930.8 1499.2 769.9 1503.9 770.4C1508.6 770.9 1522.8 936.2 1527.5 957.7C1529.4 966.5 1546.3 982.0 1551.0 985.4C1555.7 988.8 1569.9 990.8 1574.6 991.7C1579.3 992.6 1593.4 994.2 1598.1 994.5C1602.8 994.8 1617.0 994.5 1621.7 994.5C1626.4 994.5 1642.9 994.5 1645.2 994.5"/>
<path stroke="#1296cb" stroke-opacity="0.65" stroke-width="2.6" stroke-linejoin="miter" d="M245.3 994.5 a10.5 10.5 0 1 0 21 0 a10.5 10.5 0 1 0 -21 0M268.8 994.5 a10.5 10.5 0 1 0 21 0 a10.5 10.5 0 1 0 -21 0M292.4 994.5 a10.5 10.5 0 1 0 21 0 a10.5 10.5 0 1 0 -21 0M315.9 994.5 a10.5 10.5 0 1 0 21 0 a10.5 10.5 0 1 0 -21 0M339.5 994.5 a10.5 10.5 0 1 0 21 0 a10.5 10.5 0 1 0 -21 0M363.0 994.5 a10.5 10.5 0 1 0 21 0 a10.5 10.5 0 1 0 -21 0M386.6 994.5 a10.5 10.5 0 1 0 21 0 a10.5 10.5 0 1 0 -21 0M410.1 994.5 a10.5 10.5 0 1 0 21 0 a10.5 10.5 0 1 0 -21 0M433.7 994.5 a10.5 10.5 0 1 0 21 0 a10.5 10.5 0 1 0 -21 0M457.2 994.5 a10.5 10.5 0 1 0 21 0 a10.5 10.5 0 1 0 -21 0M480.8 994.5 a10.5 10.5 0 1 0 21 0 a10.5 10.5 0 1 0 -21 0M504.3 994.5 a10.5 10.5 0 1 0 21 0 a10.5 10.5 0 1 0 -21 0M527.9 994.5 a10.5 10.5 0 1 0 21 0 a10.5 10.5 0 1 0 -21 0M551.4 994.5 a10.5 10.5 0 1 0 21 0 a10.5 10.5 0 1 0 -21 0M575.0 994.5 a10.5 10.5 0 1 0 21 0 a10.5 10.5 0 1 0 -21 0M598.5 994.5 a10.5 10.5 0 1 0 21 0 a10.5 10.5 0 1 0 -21 0M622.1 994.5 a10.5 10.5 0 1 0 21 0 a10.5 10.5 0 1 0 -21 0M645.6 994.5 a10.5 10.5 0 1 0 21 0 a10.5 10.5 0 1 0 -21 0M669.2 994.5 a10.5 10.5 0 1 0 21 0 a10.5 10.5 0 1 0 -21 0M692.7 994.5 a10.5 10.5 0 1 0 21 0 a10.5 10.5 0 1 0 -21 0M716.3 994.5 a10.5 10.5 0 1 0 21 0 a10.5 10.5 0 1 0 -21 0M739.8 994.5 a10.5 10.5 0 1 0 21 0 a10.5 10.5 0 1 0 -21 0M763.4 994.5 a10.5 10.5 0 1 0 21 0 a10.5 10.5 0 1 0 -21 0M786.9 994.5 a10.5 10.5 0 1 0 21 0 a10.5 10.5 0 1 0 -21 0M810.5 994.5 a10.5 10.5 0 1 0 21 0 a10.5 10.5 0 1 0 -21 0M834.0 994.5 a10.5 10.5 0 1 0 21 0 a10.5 10.5 0 1 0 -21 0M857.6 994.5 a10.5 10.5 0 1 0 21 0 a10.5 10.5 0 1 0 -21 0M881.1 994.5 a10.5 10.5 0 1 0 21 0 a10.5 10.5 0 1 0 -21 0M904.7 994.5 a10.5 10.5 0 1 0 21 0 a10.5 10.5 0 1 0 -21 0M928.2 994.5 a10.5 10.5 0 1 0 21 0 a10.5 10.5 0 1 0 -21 0M951.8 994.5 a10.5 10.5 0 1 0 21 0 a10.5 10.5 0 1 0 -21 0M975.3 994.5 a10.5 10.5 0 1 0 21 0 a10.5 10.5 0 1 0 -21 0M998.9 991.7 a10.5 10.5 0 1 0 21 0 a10.5 10.5 0 1 0 -21 0M1022.4 917.6 a10.5 10.5 0 1 0 21 0 a10.5 10.5 0 1 0 -21 0M1046.0 780.5 a10.5 10.5 0 1 0 21 0 a10.5 10.5 0 1 0 -21 0M1069.5 977.5 a10.5 10.5 0 1 0 21 0 a10.5 10.5 0 1 0 -21 0M1093.1 991.7 a10.5 10.5 0 1 0 21 0 a10.5 10.5 0 1 0 -21 0M1116.6 994.5 a10.5 10.5 0 1 0 21 0 a10.5 10.5 0 1 0 -21 0M1140.2 994.5 a10.5 10.5 0 1 0 21 0 a10.5 10.5 0 1 0 -21 0M1163.7 994.5 a10.5 10.5 0 1 0 21 0 a10.5 10.5 0 1 0 -21 0M1187.3 994.5 a10.5 10.5 0 1 0 21 0 a10.5 10.5 0 1 0 -21 0M1210.8 994.5 a10.5 10.5 0 1 0 21 0 a10.5 10.5 0 1 0 -21 0M1234.4 994.5 a10.5 10.5 0 1 0 21 0 a10.5 10.5 0 1 0 -21 0M1257.9 994.5 a10.5 10.5 0 1 0 21 0 a10.5 10.5 0 1 0 -21 0M1281.5 994.5 a10.5 10.5 0 1 0 21 0 a10.5 10.5 0 1 0 -21 0M1305.0 994.5 a10.5 10.5 0 1 0 21 0 a10.5 10.5 0 1 0 -21 0M1328.6 994.5 a10.5 10.5 0 1 0 21 0 a10.5 10.5 0 1 0 -21 0M1352.1 994.5 a10.5 10.5 0 1 0 21 0 a10.5 10.5 0 1 0 -21 0M1375.7 994.5 a10.5 10.5 0 1 0 21 0 a10.5 10.5 0 1 0 -21 0M1399.2 994.5 a10.5 10.5 0 1 0 21 0 a10.5 10.5 0 1 0 -21 0M1422.8 994.5 a10.5 10.5 0 1 0 21 0 a10.5 10.5 0 1 0 -21 0M1446.3 988.5 a10.5 10.5 0 1 0 21 0 a10.5 10.5 0 1 0 -21 0M1469.9 952.6 a10.5 10.5 0 1 0 21 0 a10.5 10.5 0 1 0 -21 0M1493.4 770.4 a10.5 10.5 0 1 0 21 0 a10.5 10.5 0 1 0 -21 0M1517.0 957.7 a10.5 10.5 0 1 0 21 0 a10.5 10.5 0 1 0 -21 0M1540.5 985.4 a10.5 10.5 0 1 0 21 0 a10.5 10.5 0 1 0 -21 0M1564.1 991.7 a10.5 10.5 0 1 0 21 0 a10.5 10.5 0 1 0 -21 0M1587.6 994.5 a10.5 10.5 0 1 0 21 0 a10.5 10.5 0 1 0 -21 0M1611.2 994.5 a10.5 10.5 0 1 0 21 0 a10.5 10.5 0 1 0 -21 0M1634.7 994.5 a10.5 10.5 0 1 0 21 0 a10.5 10.5 0 1 0 -21 0"/>
</g>
<g fill="none" stroke-linecap="butt">
<path stroke="#7a0a2b" stroke-width="4.8" d="M1191 328.5H1320"/>
<path stroke="#7a0a2b" stroke-opacity="0.6" stroke-width="2.6" d="M1254.0 315.7 l11.2 12.8 l-11.2 12.8 l-11.2 -12.8 z"/>
<path stroke="#0763b3" stroke-width="4.8" d="M1191 409.5H1320"/>
<path stroke="#0763b3" stroke-opacity="0.6" stroke-width="2.6" d="M1254.0 396.7 l11.2 12.8 l-11.2 12.8 l-11.2 -12.8 z"/>
<path stroke="#fde1cf" stroke-width="4.8" d="M1191 493.5H1320"/>
<path stroke="#fde1cf" stroke-opacity="0.85" stroke-width="2.6" d="M1254.0 482.0 l12 23 h-24 z"/>
<path stroke="#d8152f" stroke-width="4.8" d="M1191 578.0H1320"/>
<path stroke="#d8152f" stroke-opacity="0.7" stroke-width="2.6" d="M1243.5 578.0 a10.5 10.5 0 1 0 21 0 a10.5 10.5 0 1 0 -21 0"/>
<path stroke="#1296cb" stroke-width="4.8" d="M1191 659.5H1320"/>
<path stroke="#1296cb" stroke-opacity="0.65" stroke-width="2.6" d="M1243.5 659.5 a10.5 10.5 0 1 0 21 0 a10.5 10.5 0 1 0 -21 0"/>
</g>
<text class="l" x="1331" y="343.5">O</text>
<text class="l" x="1331" y="424.5">W</text>
<text class="l" x="1331" y="508.5">H</text>
<text class="l" x="1331" y="593.0">Q</text>
<text class="l" x="1331" y="674.5">S</text>
<defs><clipPath id="c"><rect x="1907" y="44" width="445" height="961"/></clipPath>
<filter id="b" x="-5%" y="-5%" width="110%" height="110%"><feGaussianBlur stdDeviation="1.6"/></filter>
<filter id="b2" x="-30%" y="-30%" width="160%" height="160%"><feGaussianBlur stdDeviation="9"/></filter><filter id="b3" x="-30%" y="-30%" width="160%" height="160%"><feGaussianBlur stdDeviation="4"/></filter>
</defs>
<g clip-path="url(#c)">
<rect x="1907" y="44" width="445" height="961" fill="#0711f4"/>
<circle cx="2053" cy="261" r="97" fill="none" stroke="#18c0b0" stroke-width="12" opacity=".38" filter="url(#b3)"/><circle cx="2053" cy="261" r="85" fill="#e81438" opacity="0.70" filter="url(#b2)"/><circle cx="2115" cy="757" r="105" fill="none" stroke="#18c0b0" stroke-width="12" opacity=".38" filter="url(#b3)"/><circle cx="2115" cy="757" r="93" fill="#e81438" opacity="0.82" filter="url(#b2)"/><circle cx="2226" cy="261" r="44" fill="#7010c0" opacity="0.40" filter="url(#b2)"/><circle cx="2300" cy="102" r="54" fill="#7010c0" opacity="0.42" filter="url(#b2)"/><circle cx="1925" cy="92" r="40" fill="#7010c0" opacity="0.36" filter="url(#b2)"/><circle cx="2172" cy="542" r="50" fill="#7010c0" opacity="0.29" filter="url(#b2)"/><circle cx="1947" cy="640" r="42" fill="#7010c0" opacity="0.11" filter="url(#b2)"/><circle cx="2304" cy="676" r="42" fill="#7010c0" opacity="0.11" filter="url(#b2)"/><circle cx="1925" cy="978" r="30" fill="#7010c0" opacity="0.29" filter="url(#b2)"/><circle cx="2313" cy="978" r="40" fill="#7010c0" opacity="0.30" filter="url(#b2)"/><circle cx="1950" cy="250" r="22" fill="#7010c0" opacity="0.08" filter="url(#b2)"/><circle cx="2080" cy="80" r="32" fill="#7010c0" opacity="0.05" filter="url(#b2)"/>
<g filter="url(#b)" fill="none" stroke-linecap="round" stroke-width="5">
<path stroke="#0036dc" stroke-width="4.4" d="M1964 524h.1M2175 72h.1M1973 936h.1M1938 169h.1M2329 642h.1M2071 535h.1M2202 309h.1M1968 801h.1M2205 536h.1M2270 572h.1M2344 241h.1M2153 509h.1M2064 613h.1M2012 815h.1M2293 168h.1M2115 310h.1M1944 905h.1M2098 186h.1M2207 238h.1M2308 253h.1M1922 237h.1M2061 495h.1M2310 714h.1M2058 60h.1M1978 1002h.1M2112 708h.1M1931 77h.1M2283 609h.1M2044 349h.1M1947 210h.1M1918 850h.1M2115 166h.1M2236 232h.1M1935 619h.1M2306 70h.1M2265 227h.1M1948 61h.1M2037 743h.1M2126 864h.1M2004 347h.1M2022 984h.1M2326 371h.1M2101 346h.1M2239 82h.1M1937 432h.1M2016 856h.1M2237 569h.1M2201 709h.1M2255 935h.1M1974 646h.1M1971 470h.1M2257 904h.1M2245 78h.1M2067 201h.1M2351 182h.1M2016 387h.1M1934 880h.1M2190 198h.1M2129 120h.1M2179 267h.1M1924 155h.1M2154 656h.1M2052 662h.1M2064 170h.1M2047 424h.1M2313 155h.1M1945 584h.1M2336 916h.1M2219 108h.1M2266 701h.1M1971 491h.1M1929 815h.1M2227 817h.1M2245 301h.1M2258 283h.1M1968 419h.1M2129 319h.1M2177 623h.1M2014 642h.1M2066 750h.1M2036 812h.1M2092 576h.1M2207 542h.1M2022 985h.1M1950 356h.1M2151 72h.1M1976 812h.1M2256 656h.1M2308 770h.1M2040 664h.1M2058 765h.1M2078 191h.1M2297 707h.1M2238 582h.1M2255 474h.1M2159 104h.1M2154 827h.1M2221 816h.1M2128 891h.1M1955 886h.1M2072 131h.1M2183 481h.1M2098 863h.1M1968 637h.1M2091 552h.1M2129 173h.1M2135 872h.1M1983 55h.1M1937 486h.1M2341 87h.1M2348 559h.1M1960 446h.1M1999 730h.1M2148 321h.1M2021 877h.1M2248 463h.1M2087 753h.1M2339 120h.1M1978 392h.1M2133 113h.1M1931 255h.1M2079 754h.1M2178 72h.1M1927 478h.1M2296 923h.1M2069 897h.1M2320 435h.1M2239 395h.1M1975 597h.1M1945 681h.1M2267 924h.1M2106 157h.1M2309 880h.1M2338 615h.1M2207 403h.1M1988 324h.1M2228 356h.1M2215 527h.1M2107 974h.1M1981 512h.1M1978 945h.1M2124 363h.1M1982 615h.1M2085 166h.1M1921 420h.1M2167 543h.1M2308 920h.1M2324 813h.1M2120 547h.1M2084 428h.1M1926 812h.1M2016 72h.1M2115 734h.1M2101 394h.1M2200 201h.1M1912 613h.1M2143 876h.1M2092 799h.1M1915 70h.1M2173 261h.1M1937 167h.1M2074 368h.1M2158 897h.1M2070 221h.1M2164 46h.1M2078 349h.1M2079 93h.1M2154 644h.1M2241 964h.1M2065 675h.1M2104 251h.1M2303 761h.1M2327 834h.1M2315 167h.1M1914 235h.1M2090 705h.1M2102 537h.1M2246 112h.1M2209 91h.1M2018 738h.1M2211 433h.1M2038 840h.1M2029 74h.1M2017 64h.1M2268 162h.1M2340 249h.1M2043 606h.1M2044 409h.1M1953 418h.1M1918 259h.1M2312 314h.1M2028 697h.1M2300 328h.1M2074 731h.1M2260 634h.1M1987 218h.1M2244 723h.1M2306 793h.1M2094 172h.1M2303 712h.1M2163 699h.1M2078 374h.1M2163 508h.1M2222 944h.1M2284 416h.1M2073 935h.1M2083 813h.1M1948 478h.1M2137 821h.1M2298 191h.1M2182 649h.1M1974 845h.1M2153 968h.1M1990 548h.1M2051 661h.1M2178 536h.1M2052 528h.1M2073 900h.1M2112 501h.1M2022 288h.1M2331 346h.1M2293 616h.1M2343 202h.1M2326 786h.1M2160 725h.1M2228 475h.1M2189 264h.1M1917 694h.1M2118 914h.1M2024 830h.1M2346 907h.1M2336 197h.1M1980 263h.1M2068 155h.1M1974 62h.1M2322 391h.1M2186 481h.1M2238 819h.1M2077 558h.1M1950 318h.1M2006 341h.1M2051 597h.1M2055 358h.1M2277 56h.1M1909 99h.1M2292 653h.1M2231 964h.1M2004 928h.1M2015 543h.1M2210 810h.1M2017 502h.1M1927 321h.1M2344 914h.1M2166 800h.1M2308 363h.1M2343 475h.1M1978 553h.1M2171 710h.1M2206 84h.1M2191 930h.1M2205 981h.1M2135 823h.1M1969 905h.1M2101 886h.1M2050 644h.1M2284 728h.1M2183 977h.1M1946 142h.1M2152 961h.1M2212 342h.1M1955 475h.1M2121 494h.1M2183 306h.1M2299 321h.1M1955 379h.1M2323 197h.1M2031 934h.1M2062 854h.1M1927 898h.1M2013 218h.1M2237 995h.1M2334 767h.1M2314 993h.1M2153 183h.1M2285 424h.1M2046 525h.1M1923 62h.1M2025 617h.1M2240 964h.1M2271 948h.1M2190 749h.1M2168 122h.1M1935 774h.1M1997 803h.1M2114 51h.1M2157 470h.1M1940 295h.1M2043 376h.1M2222 205h.1M2104 627h.1M2328 155h.1M1942 228h.1M2005 200h.1M1941 245h.1M2006 505h.1M2195 394h.1M1982 135h.1M2024 208h.1M2121 881h.1M2226 239h.1M1923 109h.1M2101 393h.1M2211 125h.1M2020 703h.1M2160 541h.1M2308 153h.1M1994 588h.1M2159 986h.1M2342 608h.1M2245 714h.1M1966 623h.1M2043 389h.1M1977 52h.1M2287 733h.1M2242 321h.1M2093 213h.1M2175 850h.1M2254 941h.1M2023 718h.1M1963 559h.1M1956 563h.1M2148 377h.1M2063 727h.1M2121 436h.1M1957 315h.1M2284 978h.1M2073 881h.1M2296 254h.1M2029 713h.1M2043 962h.1M2069 746h.1M2222 249h.1M2292 360h.1M1956 92h.1M2108 652h.1M2028 853h.1M2026 858h.1M1922 296h.1M1978 474h.1M2063 423h.1M2286 601h.1M2176 419h.1M2267 526h.1M2239 923h.1M2179 462h.1M2024 920h.1M2247 812h.1M2006 464h.1M2300 280h.1M2269 562h.1M2004 405h.1M1941 691h.1M2230 72h.1M2041 783h.1M1996 560h.1M2266 592h.1M1961 918h.1M2239 587h.1M2055 604h.1M2081 158h.1M1961 88h.1M1983 280h.1M2190 602h.1M2170 834h.1M1949 418h.1M1942 446h.1M1942 108h.1M1953 419h.1M2247 315h.1M2237 268h.1M2035 497h.1M1940 475h.1M2167 836h.1M1932 813h.1M2160 600h.1M1930 890h.1M2030 569h.1M2147 919h.1M2175 997h.1M2010 680h.1M2164 538h.1M2186 573h.1M2057 661h.1M1944 504h.1M2109 249h.1M2160 688h.1M1963 329h.1M1935 618h.1M1943 264h.1M2106 478h.1M1922 954h.1M2009 630h.1M2006 617h.1M2064 350h.1M2118 607h.1M2173 706h.1M2027 132h.1M2020 358h.1M2177 442h.1M2046 139h.1M2173 150h.1M2137 706h.1M2184 197h.1M2065 948h.1M1947 696h.1M2101 634h.1M2082 163h.1M2157 50h.1M2292 812h.1M2073 560h.1M2142 985h.1M1926 330h.1M2088 801h.1M2232 451h.1M1912 667h.1M2088 156h.1M2188 472h.1M2043 303h.1M2139 282h.1M2082 949h.1M2120 288h.1M2139 926h.1M2292 695h.1M2307 771h.1M2210 455h.1M1973 747h.1M2189 974h.1M2050 887h.1M2004 953h.1M2350 89h.1M2051 1003h.1M2338 688h.1M1967 50h.1M2018 952h.1M2265 456h.1M2246 911h.1M2040 884h.1M2027 360h.1M1927 198h.1M2152 67h.1M2150 207h.1M2240 167h.1M1999 302h.1M2166 821h.1M2242 756h.1M2210 566h.1M2059 217h.1M2291 437h.1M2196 110h.1M2068 140h.1M2065 749h.1M2059 700h.1M1962 414h.1M2089 533h.1M2009 715h.1M2300 825h.1M1921 513h.1M2060 595h.1M1944 745h.1M2092 951h.1M1915 445h.1M2124 843h.1M2244 219h.1M2044 751h.1M2094 297h.1M2321 854h.1M2065 572h.1M2320 252h.1M2312 894h.1M2230 703h.1M2212 567h.1M2166 234h.1M2157 691h.1M2123 697h.1M2111 816h.1M2228 130h.1M2249 318h.1M1943 160h.1M2051 548h.1M2054 240h.1M2249 403h.1M2296 279h.1M2214 388h.1M2285 665h.1M2209 133h.1M2241 385h.1M2236 856h.1M1961 59h.1M2244 975h.1M2308 463h.1M2278 67h.1M1933 603h.1M2142 837h.1M2011 489h.1M2347 335h.1M2087 628h.1M2350 220h.1M2214 442h.1M2085 291h.1M2114 596h.1M2082 530h.1M2190 863h.1M2157 412h.1M2335 210h.1M1927 917h.1M2025 190h.1M2078 374h.1M2065 862h.1M2036 171h.1M2003 957h.1M2098 391h.1M2253 943h.1M2134 827h.1M2025 381h.1M2164 271h.1M2029 224h.1M2024 851h.1M2261 153h.1M2062 738h.1M2290 582h.1M2230 272h.1M2255 833h.1M2088 271h.1M1922 649h.1M2188 45h.1M2138 946h.1M1920 176h.1M1933 464h.1M2078 880h.1M1937 237h.1M2324 62h.1M2022 423h.1M1907 320h.1M2175 635h.1M2178 669h.1M2180 77h.1M2198 605h.1M2004 447h.1M2013 878h.1M2031 201h.1M2262 775h.1M2286 695h.1M2092 501h.1M2154 617h.1M2328 299h.1M2249 60h.1M1992 952h.1M2019 535h.1M2315 673h.1M2124 718h.1M2342 948h.1M1988 179h.1M2035 183h.1M2247 845h.1M1970 114h.1M2051 704h.1M2250 487h.1M2191 926h.1M2299 157h.1M2224 790h.1M2311 446h.1M1976 499h.1M2072 422h.1M2264 670h.1M2210 671h.1M1970 100h.1M2083 861h.1M2196 804h.1M2184 798h.1M2350 729h.1M2290 979h.1M2237 825h.1M1942 79h.1M2318 272h.1M2043 174h.1M2189 73h.1M2263 331h.1M2238 919h.1M2214 452h.1M2185 866h.1M2224 286h.1M1910 889h.1M2184 105h.1M2152 610h.1M2038 895h.1M2014 182h.1M2045 369h.1M2300 675h.1M1961 422h.1M1953 722h.1M2287 134h.1M2129 279h.1M2034 762h.1M2342 312h.1M2148 342h.1M1935 623h.1M1976 705h.1M2240 181h.1M2172 244h.1M2247 319h.1M2214 667h.1M2163 253h.1M2278 385h.1M2250 500h.1M2106 728h.1M2059 778h.1M2105 756h.1M2217 952h.1M2089 379h.1M2350 540h.1M2093 717h.1M2018 964h.1M2242 668h.1M2037 822h.1M2316 805h.1M2313 133h.1M2237 877h.1M2119 121h.1M2148 277h.1M1922 943h.1M2277 654h.1M2240 689h.1M2113 161h.1M2035 530h.1M2166 334h.1M1964 373h.1M1990 938h.1M2005 423h.1M2148 286h.1M2127 575h.1M1929 954h.1M2146 184h.1M2344 206h.1M2231 508h.1M2022 409h.1M2121 400h.1M2017 444h.1M2101 705h.1M1995 88h.1M2278 111h.1M2188 572h.1M2341 227h.1M2302 169h.1M1983 672h.1M1981 608h.1M2207 165h.1M2259 451h.1M2337 55h.1M1942 640h.1M2021 431h.1M2311 374h.1M1930 181h.1M2154 789h.1M2244 497h.1M2014 167h.1M2006 237h.1M2311 436h.1M1959 657h.1M2110 72h.1M2343 953h.1M2024 845h.1M2110 691h.1M2198 747h.1M2103 185h.1M2265 467h.1M2104 774h.1M2212 994h.1M2080 654h.1M1944 152h.1M2020 313h.1M2106 264h.1M2324 455h.1M2077 911h.1M2261 784h.1M2314 752h.1M2043 968h.1M1919 906h.1M2094 368h.1M2118 428h.1M2290 819h.1M2239 268h.1M2103 116h.1M2237 85h.1M2083 189h.1M2286 927h.1M2036 882h.1M1986 727h.1M2019 472h.1M2179 381h.1M1995 609h.1M2260 1001h.1M2050 292h.1M1941 241h.1M1919 284h.1M2230 154h.1M2195 327h.1M2009 509h.1M2101 473h.1M1959 587h.1M2308 53h.1M1943 607h.1M2049 286h.1M2347 340h.1M2317 637h.1M1920 300h.1M1941 561h.1M2311 95h.1M1919 72h.1M2028 204h.1M2338 789h.1M2325 601h.1M2272 725h.1M2037 671h.1M2036 490h.1M2273 256h.1M1985 862h.1M2113 211h.1M2048 314h.1M2306 498h.1M2316 496h.1M2325 925h.1M2160 800h.1M2035 155h.1M2176 97h.1M2115 640h.1M2249 906h.1M1998 876h.1M2128 642h.1M2113 859h.1M2040 52h.1M2276 680h.1M2226 163h.1M1999 645h.1M2239 679h.1M2172 673h.1M1973 477h.1M2054 751h.1M2137 736h.1M2216 914h.1M2288 94h.1M2204 403h.1M1952 504h.1M2282 809h.1M1954 238h.1M2216 974h.1M1941 129h.1M2217 636h.1M2268 235h.1M2127 814h.1M2077 428h.1M1922 811h.1M2106 407h.1M2199 864h.1M2292 373h.1M2178 416h.1M2280 807h.1M2201 835h.1M2134 593h.1M1979 724h.1M2035 584h.1M1908 426h.1M2181 650h.1M2158 286h.1M2198 679h.1M2170 406h.1M1975 579h.1M1930 924h.1M2064 316h.1M2108 144h.1M2300 985h.1M2273 595h.1M2326 362h.1M2114 209h.1M2096 935h.1M2202 568h.1M2146 654h.1M2178 479h.1M2134 141h.1M2104 692h.1M2006 310h.1M2265 175h.1M1994 831h.1M1961 333h.1M2312 441h.1M2271 779h.1M1916 255h.1M2313 353h.1M2087 942h.1M1956 978h.1M2195 648h.1M1907 650h.1M2273 423h.1M1940 171h.1M1942 443h.1M2271 100h.1M2088 429h.1M2084 550h.1M2145 240h.1M2261 541h.1M2064 971h.1M2221 201h.1M2338 600h.1M2058 272h.1M1937 278h.1M2036 375h.1M2347 613h.1M1993 400h.1M2099 124h.1M2115 532h.1M2312 460h.1M2213 697h.1M1985 589h.1M2107 200h.1M1918 1001h.1M1947 896h.1M2070 123h.1M2336 679h.1M2087 849h.1M2222 443h.1M2226 753h.1M1984 732h.1M2315 705h.1M2263 995h.1M2261 495h.1M2157 781h.1M2188 112h.1M1934 306h.1M2271 257h.1M2049 835h.1M1964 313h.1M2021 90h.1M2237 352h.1M2088 364h.1M1936 856h.1M1967 318h.1M2228 379h.1M2133 361h.1M2156 349h.1M2110 53h.1M1914 531h.1M2271 1004h.1M2264 548h.1M2194 689h.1M2232 997h.1M2060 473h.1M2254 252h.1M1950 908h.1M1914 903h.1M2314 203h.1M2243 322h.1M2028 989h.1M2302 779h.1M2101 991h.1M2161 986h.1M2228 89h.1M2262 849h.1M2299 642h.1M1924 878h.1M2095 233h.1M2000 238h.1M2270 114h.1M2316 60h.1M2229 266h.1M2136 214h.1M2307 194h.1M2115 629h.1M2109 252h.1M2036 942h.1M1963 61h.1M2311 896h.1M2212 498h.1M2331 441h.1M1913 462h.1M2142 571h.1M2302 109h.1M2287 546h.1M2233 442h.1M2039 367h.1M2029 480h.1M2173 843h.1M1985 477h.1M2144 830h.1M2223 643h.1M2207 475h.1M2266 849h.1M2159 156h.1M2097 298h.1M1992 329h.1M2272 378h.1M2098 412h.1M1989 593h.1M2092 944h.1M2182 984h.1M2289 516h.1M1914 249h.1M1960 753h.1M1968 664h.1M2051 506h.1M2244 331h.1M1983 321h.1M2327 575h.1M2035 184h.1M1937 365h.1M2180 483h.1M2268 1000h.1M2161 375h.1M2261 129h.1M2245 891h.1M2252 139h.1M2166 815h.1M2090 855h.1M1981 552h.1M2155 802h.1M2090 292h.1M2224 154h.1M2071 494h.1M2258 452h.1M2157 696h.1M2208 970h.1M2113 593h.1M1916 228h.1M2018 247h.1M2138 236h.1M2161 838h.1M1939 277h.1M2128 88h.1M1971 597h.1M2085 912h.1M2161 772h.1M2061 406h.1M2287 635h.1M2314 287h.1M1958 695h.1M1963 117h.1M2081 704h.1M2067 768h.1M2110 318h.1M2145 625h.1M1974 612h.1M1982 974h.1M2144 241h.1M1926 250h.1M2049 595h.1M2202 728h.1M2103 650h.1M2153 329h.1M2004 428h.1M2214 173h.1M2190 64h.1M1989 688h.1M2267 781h.1M2211 288h.1M2347 622h.1M2312 944h.1M2013 976h.1M1943 657h.1M2021 134h.1M2160 248h.1M2257 488h.1M2027 55h.1M2215 656h.1M2265 412h.1M2314 67h.1M2316 779h.1M1953 993h.1M1947 766h.1M2016 708h.1M2279 157h.1M2051 904h.1M2119 191h.1M1946 162h.1M1954 387h.1M2253 479h.1M1951 383h.1M2122 475h.1M2192 698h.1M2240 559h.1M1920 784h.1M2255 745h.1M2102 896h.1M1950 755h.1M2172 717h.1M1937 974h.1M1920 214h.1M2137 595h.1M1986 320h.1M2314 353h.1M2105 151h.1M2160 718h.1M2237 268h.1M2071 673h.1M2340 784h.1M2005 107h.1M2053 553h.1M2028 803h.1M2021 163h.1M2175 774h.1M1998 365h.1M2023 72h.1M2211 93h.1M2179 647h.1M2143 85h.1M1924 539h.1M2125 59h.1M1912 787h.1M2051 733h.1M1995 299h.1M2307 234h.1M2089 523h.1M2224 352h.1M2196 258h.1M2210 64h.1M1990 103h.1M1952 763h.1M2114 797h.1M2341 223h.1M2249 978h.1M2045 118h.1M2112 565h.1M2213 593h.1M2041 200h.1M2058 495h.1M1990 331h.1M2300 451h.1M1963 684h.1M2065 539h.1M2082 154h.1M2235 591h.1M2347 49h.1M2164 453h.1M2100 738h.1M2015 428h.1M1966 589h.1M2102 85h.1M2010 424h.1M2144 133h.1M2183 830h.1M2055 108h.1M1972 777h.1M2144 175h.1M1982 845h.1M2209 712h.1M1969 996h.1M2020 384h.1M2011 950h.1M2188 576h.1M2091 733h.1M2116 488h.1M1975 835h.1M1936 916h.1M2315 547h.1M1980 253h.1M1969 718h.1M2068 988h.1M2059 361h.1M2208 888h.1M2141 161h.1M1983 731h.1M2248 995h.1M2162 796h.1M2207 572h.1M2267 240h.1M1975 342h.1M2078 956h.1M2274 759h.1M2304 412h.1M2345 916h.1M1989 407h.1M2044 229h.1M2324 419h.1M2294 617h.1M1934 461h.1M2254 351h.1M2037 134h.1M2118 950h.1M1915 896h.1M2174 313h.1M2307 935h.1M2340 489h.1M2091 683h.1M2303 380h.1M2055 437h.1M1916 851h.1M2111 493h.1M2189 821h.1M2221 365h.1M2038 364h.1M2144 823h.1M1911 626h.1M2283 584h.1M2077 500h.1M2136 647h.1M1940 806h.1M2152 310h.1M2314 427h.1M2252 330h.1M2151 226h.1M2029 360h.1M1971 775h.1M2108 378h.1M2167 265h.1M2102 590h.1M2181 450h.1M2238 877h.1M2336 582h.1M2337 946h.1M2199 173h.1M2192 554h.1M2220 304h.1M2349 377h.1M2352 310h.1M2120 699h.1M2023 435h.1M2201 767h.1M2315 574h.1M2335 315h.1M2178 772h.1M1944 800h.1M2272 585h.1M2318 716h.1M2070 819h.1M2138 701h.1M2347 713h.1M2253 828h.1M1996 80h.1M1941 491h.1M2337 473h.1M2318 326h.1M1970 435h.1M2283 974h.1M2147 409h.1M2257 453h.1M2041 771h.1M1944 790h.1M2332 143h.1M2255 67h.1M1963 325h.1M2352 95h.1M2110 469h.1M1986 984h.1M2012 910h.1M2149 729h.1M2238 692h.1M2267 891h.1M1970 130h.1M2109 147h.1M2170 949h.1M2136 206h.1M1959 555h.1M2238 819h.1M2243 491h.1M2297 564h.1M2211 46h.1M2125 127h.1M2002 333h.1M2162 118h.1M2224 423h.1M2004 962h.1M2201 367h.1M1962 515h.1M2250 536h.1M2045 152h.1M2007 803h.1M1978 987h.1M2232 431h.1M1991 491h.1M2331 158h.1M2015 118h.1M2229 958h.1M2155 330h.1M2336 608h.1M2334 403h.1M1972 111h.1M2026 460h.1M2247 495h.1M2027 909h.1M2164 623h.1M2272 689h.1M2015 960h.1M1979 198h.1M2196 604h.1M2009 719h.1M1951 501h.1M2328 905h.1M2176 806h.1M2202 268h.1M2289 631h.1M2172 960h.1M2156 357h.1M2095 578h.1M2295 854h.1M2084 513h.1M1929 658h.1M2264 234h.1M2190 179h.1M2280 746h.1M2323 317h.1M1983 592h.1M1933 833h.1M1998 172h.1M1973 720h.1M1929 449h.1M1988 794h.1M1931 233h.1M2250 540h.1M1958 995h.1M2072 447h.1M2237 517h.1M2276 559h.1M2016 559h.1M2280 313h.1M2190 601h.1M2215 390h.1M2008 683h.1M2284 497h.1M1968 817h.1M2142 700h.1M1952 798h.1M2073 899h.1M2017 50h.1M2049 740h.1M2227 859h.1M2001 615h.1M1939 260h.1M1927 648h.1M2305 622h.1M2175 912h.1M2054 579h.1M2267 231h.1M2220 118h.1M2071 222h.1M2099 240h.1M1934 471h.1M2081 749h.1M1913 655h.1M1927 511h.1M1916 919h.1M2124 503h.1M1939 800h.1M2025 496h.1M2228 805h.1M2079 102h.1M2346 289h.1M1926 640h.1M2296 128h.1M1927 695h.1M2162 293h.1M2025 781h.1M1916 275h.1M2068 788h.1M2047 96h.1M2238 705h.1M1964 744h.1M2184 398h.1M2164 527h.1M2260 958h.1M2059 131h.1M2069 620h.1M2021 193h.1M2001 859h.1M2225 165h.1M2040 304h.1M1957 850h.1M2036 587h.1M2077 111h.1M1923 712h.1M2186 517h.1M1986 371h.1M2133 251h.1M2164 851h.1M1986 939h.1M2133 984h.1M2338 105h.1M2210 278h.1M2183 899h.1M2111 671h.1M2204 224h.1M2096 324h.1M2122 777h.1M1972 576h.1M2131 414h.1M2282 381h.1M2263 112h.1M2103 149h.1M2284 683h.1M2002 402h.1M1964 895h.1M2304 902h.1M2176 298h.1M2110 683h.1M2096 100h.1M2141 128h.1M2012 829h.1M2180 810h.1M2209 676h.1M2017 725h.1M1963 61h.1M2058 195h.1M2216 319h.1M1922 789h.1M2323 727h.1M2332 797h.1M2321 691h.1M2256 808h.1M1959 351h.1M2181 353h.1M2295 96h.1M1964 359h.1M2060 844h.1M1914 839h.1M2340 92h.1M2331 679h.1M1966 843h.1M1960 413h.1M2013 413h.1M1972 408h.1M2160 490h.1M2139 902h.1M2286 152h.1M2234 809h.1M2312 422h.1M2318 579h.1M2116 532h.1M2090 707h.1M2144 888h.1M2116 94h.1M1977 441h.1M2117 826h.1M2170 207h.1M2042 559h.1M2260 725h.1M2192 290h.1M2161 280h.1M1936 773h.1M2196 994h.1M2240 287h.1M1919 458h.1M2058 540h.1M2074 90h.1M1937 389h.1M2169 213h.1M1987 267h.1M2237 778h.1M2124 96h.1M2325 879h.1M2041 52h.1M2126 206h.1M2076 428h.1M2046 922h.1M2080 152h.1M2163 898h.1M2010 532h.1M2075 693h.1M2046 289h.1M2335 835h.1M2220 675h.1M2323 99h.1M2103 643h.1M1964 1001h.1M2212 774h.1M2337 600h.1M2313 402h.1M2317 532h.1M2252 305h.1M2119 579h.1M2136 931h.1M2110 886h.1M1956 246h.1M1985 220h.1M2168 142h.1M2207 882h.1M2318 97h.1M2017 468h.1M1913 691h.1M2109 454h.1M1976 110h.1M2300 619h.1M2061 890h.1M1959 426h.1M1940 807h.1M2300 318h.1M2271 959h.1M2010 972h.1M2056 725h.1M2146 380h.1M2175 44h.1M2130 524h.1M2189 779h.1M2299 815h.1M2295 405h.1M1954 669h.1M1927 961h.1M2122 291h.1M1921 854h.1M2278 173h.1M2251 128h.1M2217 556h.1M2192 176h.1M2260 800h.1M2281 431h.1M2022 572h.1M2218 775h.1M2107 629h.1M2195 612h.1M2226 341h.1M2012 322h.1M2259 975h.1M2048 673h.1M2166 890h.1M1914 642h.1M2294 971h.1M2092 507h.1M2281 942h.1M2012 897h.1M1960 93h.1M1922 116h.1M1950 270h.1M2035 976h.1M2264 143h.1M1993 710h.1M2174 473h.1M2096 761h.1M2126 736h.1M1912 140h.1M1990 613h.1M2166 879h.1M2302 820h.1M2054 101h.1M2301 938h.1M1918 48h.1M1986 391h.1M2221 482h.1M2201 826h.1M1986 342h.1M2339 564h.1M2126 574h.1M2151 740h.1M2294 644h.1M2188 600h.1M2013 778h.1M1995 291h.1M2058 548h.1M2271 387h.1M2175 462h.1M2106 973h.1M2195 61h.1M2292 526h.1M2336 164h.1M2334 674h.1M2184 522h.1M2337 848h.1M2140 405h.1M2080 503h.1M1987 268h.1M2201 785h.1M2310 196h.1M2044 222h.1M2186 334h.1M2049 109h.1M2251 940h.1M1968 515h.1M2256 879h.1M2063 101h.1M2248 726h.1M2083 989h.1M2226 592h.1M2170 121h.1M2334 995h.1M1980 783h.1M2165 423h.1M2170 160h.1M2063 364h.1M2210 551h.1M1919 321h.1M2078 393h.1M2257 840h.1M2330 948h.1M2124 581h.1M2175 531h.1M1924 150h.1M2261 768h.1M2045 234h.1M2160 859h.1M1932 670h.1M2007 290h.1M2103 201h.1M2239 136h.1M2127 686h.1M2276 576h.1M1965 821h.1M2325 73h.1M2314 641h.1M2173 417h.1M1979 621h.1M2301 67h.1M2154 657h.1M2316 58h.1M2072 166h.1M2045 916h.1M1987 389h.1M2273 764h.1M2315 163h.1M1939 257h.1M2127 697h.1M1959 647h.1M2006 969h.1M2154 178h.1M2278 519h.1M2250 565h.1M2301 314h.1M2339 61h.1M2075 195h.1M2346 63h.1M2035 417h.1M1941 926h.1M2250 561h.1M2088 231h.1M1980 434h.1M2180 864h.1M2015 873h.1M2201 197h.1M1921 68h.1M2336 280h.1M1936 677h.1M2030 951h.1M2202 896h.1M2197 748h.1M2112 452h.1M2255 219h.1M1936 920h.1M2078 581h.1M2083 759h.1M2253 220h.1M2251 349h.1M2160 508h.1M2284 445h.1M2274 948h.1M2163 828h.1M2302 264h.1M2108 910h.1M2246 858h.1M2175 409h.1M2257 376h.1M2166 246h.1M2085 475h.1M1958 142h.1M2301 991h.1M1979 396h.1M2207 182h.1M1937 915h.1M2033 963h.1M2139 608h.1M2147 531h.1M2026 646h.1M2103 860h.1M2036 229h.1M2290 559h.1M2009 791h.1M2035 735h.1M2199 325h.1M2193 514h.1M1920 984h.1M2023 413h.1M2299 707h.1M1983 660h.1M1917 764h.1M2176 681h.1M2160 384h.1M2199 486h.1M2240 78h.1M2025 194h.1M2135 641h.1M2005 953h.1M2072 57h.1M2230 152h.1M1914 322h.1M2116 275h.1M2054 170h.1M2066 809h.1M2045 603h.1M2001 164h.1M2049 76h.1M2118 722h.1M2095 261h.1M2051 832h.1M2014 363h.1M2213 284h.1M2321 210h.1M1918 454h.1M2147 591h.1M2051 794h.1M2283 513h.1M2272 817h.1M1986 179h.1M1966 127h.1M2253 411h.1M1970 572h.1M2039 90h.1M2092 838h.1M2221 991h.1M2118 970h.1M2077 515h.1M2239 485h.1M1981 727h.1M2315 386h.1M2092 341h.1M2213 517h.1M2009 907h.1M1913 846h.1M2292 135h.1M1915 666h.1M2167 210h.1M2100 136h.1M2091 549h.1M2305 404h.1M1978 958h.1M2191 174h.1M1934 410h.1M2015 397h.1M2028 921h.1M2268 689h.1M1947 805h.1M2084 879h.1M1930 184h.1M1965 828h.1M2331 761h.1M2044 94h.1M2336 208h.1M2268 497h.1M2058 438h.1M1941 156h.1M2293 479h.1M2206 364h.1M2122 808h.1M2194 427h.1M2112 992h.1M1921 430h.1M1965 145h.1M1931 780h.1M2110 572h.1M2041 423h.1M2108 841h.1M1948 217h.1M1982 491h.1M2119 698h.1M2347 925h.1M2014 436h.1M2143 804h.1M2135 197h.1M1929 371h.1M2177 217h.1M2109 413h.1M2334 716h.1M2341 543h.1M2126 983h.1M2088 576h.1M1918 206h.1M2035 279h.1M2100 898h.1M2000 90h.1M2157 393h.1M1928 774h.1M2324 760h.1M2263 773h.1M2343 178h.1M2297 718h.1M2330 858h.1M2153 676h.1M2016 366h.1M1973 431h.1M2275 372h.1M2299 232h.1M2195 269h.1M2190 800h.1M2298 776h.1M1970 703h.1M2038 530h.1M1970 469h.1M2200 154h.1M2169 895h.1M2141 358h.1M1999 490h.1M2083 711h.1M2237 715h.1M2244 803h.1M2230 284h.1M2164 420h.1M1941 649h.1M1970 703h.1M2146 113h.1M2094 569h.1M2018 939h.1M2330 144h.1M2226 455h.1M2278 944h.1M2130 653h.1M2070 684h.1M2348 363h.1M1920 977h.1M1919 705h.1M2165 432h.1M2321 160h.1M2013 841h.1M1910 296h.1M1982 448h.1M2235 959h.1M2016 57h.1M2237 918h.1M1914 634h.1M2171 577h.1M2186 312h.1M2305 257h.1M2328 959h.1M2277 416h.1M2329 250h.1M2126 529h.1M1969 992h.1M1987 505h.1M1945 314h.1M2276 697h.1M2069 668h.1M1983 678h.1M2303 58h.1M2040 291h.1M1946 924h.1M2214 635h.1M2179 690h.1M2034 237h.1M1941 193h.1M1995 810h.1M2050 416h.1M2236 975h.1M1953 608h.1M2093 218h.1M2058 796h.1M2026 582h.1M2110 61h.1M2290 872h.1M2279 462h.1M2098 691h.1M2346 523h.1M2040 500h.1M2162 649h.1M2325 600h.1M2273 498h.1M2109 915h.1M2034 335h.1M2150 151h.1M1980 540h.1M2192 986h.1M1957 85h.1M2213 905h.1M1948 330h.1M2210 660h.1M2294 681h.1M2329 326h.1M2239 611h.1M2082 737h.1M2283 601h.1M2226 440h.1M2290 414h.1M2185 617h.1M2135 926h.1M2220 610h.1M2224 725h.1M2054 348h.1M2178 178h.1M2268 783h.1M2192 364h.1M2342 757h.1M2290 735h.1M2156 316h.1M1987 829h.1M2184 271h.1M2000 512h.1M2190 776h.1M2121 284h.1M2208 169h.1M1983 401h.1M2157 62h.1M1967 724h.1M2090 474h.1M2117 212h.1M2336 931h.1M2189 132h.1M2213 821h.1M2056 189h.1M2230 655h.1M2082 328h.1M2320 128h.1M2045 505h.1M2169 290h.1M2171 152h.1M2144 126h.1M2081 729h.1M1996 190h.1M2337 456h.1M1933 453h.1M2028 830h.1M2298 776h.1M2207 593h.1M1933 669h.1M2079 315h.1M2158 277h.1M2346 619h.1M2240 148h.1M1923 210h.1M1989 573h.1M2199 905h.1M1949 522h.1M2200 444h.1M1939 137h.1M1911 353h.1M1978 956h.1M2188 138h.1M2203 529h.1M2277 225h.1M2061 514h.1M2135 182h.1M2277 196h.1M2113 591h.1M2102 371h.1M2228 548h.1M2211 777h.1M2318 518h.1M2093 928h.1M2337 883h.1M1998 917h.1M2195 546h.1M1965 200h.1M2292 322h.1M2118 455h.1M2078 453h.1M2032 909h.1M2136 326h.1M2002 814h.1M2258 833h.1M2172 361h.1M2001 402h.1M1947 309h.1M2062 155h.1M1975 159h.1M2080 934h.1M2334 143h.1M2172 49h.1M2204 646h.1M2135 311h.1M2114 81h.1M2199 792h.1M1945 1004h.1M1986 924h.1M2343 452h.1M2281 584h.1M2028 704h.1M2067 191h.1M2250 227h.1M2323 235h.1M2051 814h.1M2279 430h.1M2178 951h.1M2036 302h.1M1954 706h.1M2214 162h.1M2227 321h.1M2135 584h.1M2167 575h.1M2085 717h.1M2001 880h.1M2080 787h.1M2178 478h.1M2119 549h.1M2093 584h.1M2119 855h.1M2023 767h.1M2090 862h.1M2275 116h.1M2320 825h.1M2199 228h.1M2277 612h.1M2010 659h.1M1960 716h.1M1993 338h.1M1917 403h.1M2177 675h.1M2092 313h.1M1949 386h.1M2255 941h.1M2317 125h.1M1964 398h.1M2156 92h.1M1947 837h.1M2350 465h.1M2260 719h.1M2249 449h.1M2320 163h.1M2025 655h.1M2018 850h.1M2273 802h.1M2298 655h.1M1988 360h.1M1909 424h.1M2190 714h.1M2225 293h.1M2318 567h.1M1999 944h.1M2206 700h.1M2177 45h.1M2153 738h.1M2203 251h.1M2118 739h.1M2308 265h.1M2162 110h.1M1985 408h.1M1915 385h.1M2295 334h.1M1974 144h.1M2153 431h.1M2186 430h.1M2142 433h.1M2035 54h.1M2033 757h.1M2061 786h.1M1926 720h.1M2274 278h.1M2076 298h.1M2101 927h.1M2217 144h.1M2351 697h.1M2269 851h.1M2316 790h.1M2027 762h.1M2204 445h.1M2294 55h.1M2132 894h.1M2144 411h.1M1955 227h.1M2025 998h.1M2151 339h.1M2302 631h.1M2038 673h.1M1918 546h.1M2141 110h.1M2201 66h.1M1993 756h.1M2086 737h.1M2147 490h.1M2171 63h.1M1908 945h.1M2214 220h.1M2215 934h.1M2279 661h.1M2141 642h.1M1988 473h.1M2297 393h.1M2026 544h.1M2269 892h.1M2351 971h.1M1955 482h.1M2153 695h.1M1957 394h.1M2074 628h.1M2071 347h.1M1990 681h.1M2044 241h.1M2313 414h.1M2034 131h.1M2138 372h.1M2167 343h.1M2116 167h.1M1935 941h.1M2234 447h.1M1996 682h.1M2175 641h.1M2342 383h.1M2320 461h.1M2341 978h.1M2092 523h.1M2305 902h.1M1949 529h.1M1951 858h.1M2027 360h.1M2049 735h.1M2051 468h.1M2296 467h.1M2315 925h.1M2109 267h.1M2325 580h.1M2065 101h.1M2113 77h.1M2186 423h.1M2037 255h.1M2244 908h.1M1911 553h.1M1942 78h.1M2344 345h.1M2145 912h.1M2193 380h.1M2219 796h.1M2194 416h.1M2243 403h.1M2068 314h.1M2340 159h.1M1930 325h.1M1962 396h.1M2325 955h.1M2008 328h.1M2086 957h.1M2025 777h.1M2191 889h.1M2030 936h.1M2350 425h.1M2323 748h.1M2007 468h.1M2019 912h.1M2009 888h.1M2030 901h.1M2260 748h.1M2027 733h.1M2186 378h.1M2346 963h.1M2198 916h.1M2056 207h.1M2056 590h.1M2308 850h.1M2014 830h.1M2301 605h.1M2127 496h.1M1995 292h.1M2132 536h.1M2143 473h.1M2285 205h.1M1986 940h.1M2168 638h.1M2117 455h.1M2063 557h.1M2275 86h.1M2326 226h.1M2125 839h.1M1966 669h.1M2177 577h.1M2276 169h.1M2005 920h.1M2329 163h.1M2205 138h.1M2323 951h.1M2214 505h.1M2197 582h.1M2274 845h.1M2290 850h.1M2005 242h.1M2217 574h.1M2338 98h.1M2087 878h.1M2107 173h.1M2053 969h.1M2250 851h.1M2023 815h.1M1909 255h.1M2185 677h.1M2110 965h.1M2072 306h.1M1998 762h.1M2270 836h.1M2184 78h.1M2091 205h.1M2033 71h.1M2216 284h.1M2157 968h.1M2012 319h.1M2021 108h.1M2159 575h.1M2174 969h.1M2164 630h.1M2303 884h.1M2140 626h.1M2070 522h.1M2122 554h.1M2012 621h.1M2033 343h.1M2043 798h.1M1938 1000h.1M1980 638h.1M2010 702h.1M2288 461h.1M2116 989h.1M2169 396h.1M2009 860h.1M2218 343h.1M2132 176h.1M2253 909h.1M2231 728h.1M1965 919h.1M2172 905h.1M2239 898h.1M2267 747h.1M2174 312h.1M2019 923h.1M2262 287h.1M1953 886h.1M1913 644h.1M2222 452h.1M2314 665h.1M2349 708h.1M2155 121h.1M2299 157h.1M2030 667h.1M2211 933h.1M2328 930h.1M2259 411h.1M2229 194h.1M2051 1001h.1M2192 937h.1M1981 619h.1M1989 723h.1M2320 463h.1M1915 364h.1M1946 484h.1M2264 987h.1M2031 187h.1M1928 340h.1M2022 243h.1M2301 319h.1M1978 189h.1M2230 458h.1M2080 721h.1M2188 488h.1M2183 340h.1M2099 694h.1M1917 436h.1M2077 355h.1M2130 706h.1M2236 784h.1M2183 59h.1M2017 686h.1M1959 601h.1M1914 850h.1M1981 462h.1M1961 214h.1M2117 545h.1M2291 243h.1M2300 272h.1M2082 966h.1M2136 289h.1M2109 834h.1M2294 152h.1M2136 405h.1M1944 466h.1M2038 754h.1M1914 479h.1M2060 448h.1M2100 985h.1M2212 413h.1M2057 464h.1M2323 617h.1M2331 241h.1M2139 737h.1M2274 144h.1M2088 882h.1M2180 180h.1M2094 526h.1M1908 449h.1M2118 969h.1M2137 550h.1M1941 80h.1M2112 650h.1M2004 595h.1M1949 307h.1M2139 339h.1M2105 729h.1M1986 674h.1M2335 837h.1M2074 658h.1M1957 738h.1M2240 256h.1M2076 625h.1M2200 640h.1M2240 861h.1M2116 58h.1M2266 149h.1M2143 730h.1M2266 554h.1M2189 971h.1M2250 317h.1M2323 696h.1M2041 309h.1M2104 534h.1M2283 483h.1M2223 366h.1M2116 356h.1M2082 716h.1M2010 514h.1M2237 54h.1M2089 787h.1M2199 827h.1M2021 634h.1M2044 125h.1M2257 331h.1M2233 785h.1M2266 323h.1M2264 279h.1M2203 52h.1M2257 105h.1M2227 652h.1M1935 604h.1M2221 820h.1M2344 274h.1M2096 396h.1M2202 226h.1M2156 273h.1M2000 769h.1M2151 792h.1M2202 862h.1M2119 56h.1M2352 265h.1M2274 236h.1M2134 321h.1M2199 120h.1M1939 488h.1M2285 492h.1M1959 998h.1M1954 342h.1M2159 303h.1M2218 447h.1M2261 123h.1M2273 912h.1M2020 272h.1M2300 442h.1M2084 606h.1M2151 825h.1M2205 722h.1M2099 538h.1M2287 877h.1M2179 612h.1M2042 506h.1M1994 511h.1M1934 292h.1M2034 499h.1M2211 138h.1M2192 789h.1M1981 178h.1M1952 652h.1M2083 81h.1M1959 393h.1M1930 806h.1M1993 823h.1M1923 369h.1M2321 190h.1M1923 849h.1M2262 521h.1M1963 326h.1M2105 969h.1M2002 679h.1M2222 881h.1M2207 404h.1M2104 501h.1M2169 555h.1M1953 787h.1M2069 644h.1M2045 474h.1M2350 58h.1M2192 225h.1M2332 833h.1M2277 849h.1M2060 530h.1M2317 497h.1M2325 826h.1M2124 550h.1M2138 302h.1M2063 455h.1M2144 886h.1M2123 581h.1M2222 812h.1M2340 754h.1M2173 733h.1M1961 754h.1M2005 890h.1M2295 648h.1M2324 93h.1M1941 521h.1M1995 66h.1M2334 447h.1M2281 318h.1M2188 110h.1M2183 723h.1M2182 506h.1M2236 261h.1M2207 320h.1M1936 404h.1M2242 203h.1M2252 388h.1M2126 111h.1M1981 684h.1M2314 301h.1M2213 889h.1M2284 958h.1M1955 686h.1M2037 85h.1M2129 964h.1M2061 296h.1M2348 689h.1M1977 64h.1M1944 123h.1M2302 719h.1M1988 461h.1M2107 874h.1M2340 52h.1M1919 633h.1M1931 442h.1M2191 540h.1M1990 320h.1M2147 191h.1M2321 288h.1M2283 232h.1M2129 832h.1M2203 174h.1M2022 412h.1M2132 972h.1M2062 391h.1M2146 263h.1M2277 44h.1M2241 922h.1M2054 779h.1M2230 792h.1M2203 569h.1M2033 452h.1M1958 655h.1M2136 108h.1M1956 359h.1M1994 233h.1M2251 359h.1M1936 928h.1M2331 838h.1M2108 971h.1M2311 666h.1M2217 738h.1M2151 890h.1M2291 767h.1M2222 491h.1M2057 973h.1M2165 947h.1M2006 203h.1M2235 685h.1M2092 542h.1M2321 698h.1M2152 314h.1M1982 409h.1M2043 723h.1M2349 871h.1M2032 333h.1M2173 860h.1M2043 314h.1M2120 785h.1M2109 57h.1M2213 897h.1M2215 76h.1M2028 547h.1M2128 120h.1M2034 433h.1M2131 989h.1M2226 551h.1M1911 75h.1M2252 588h.1M2207 167h.1M2341 538h.1M2163 699h.1M2189 800h.1M2000 104h.1M2095 793h.1M2243 418h.1M2239 789h.1M2261 968h.1M2113 746h.1M2314 324h.1M2345 369h.1M2203 177h.1M1992 132h.1M2191 69h.1M2122 759h.1M2028 230h.1M2335 239h.1M2168 490h.1M2310 650h.1M2122 288h.1M2280 345h.1M2268 715h.1M2153 1001h.1M2194 619h.1M2221 205h.1M2102 44h.1M1968 77h.1M2162 357h.1M1984 428h.1M2330 98h.1M1957 886h.1M2004 684h.1M1946 80h.1M2182 757h.1M1997 489h.1M1978 840h.1M1967 585h.1M2328 247h.1M2231 518h.1M2290 874h.1M2129 496h.1M2249 729h.1M2054 951h.1M2131 281h.1M2083 430h.1M2129 376h.1M2111 979h.1M2349 290h.1M2044 407h.1M2010 257h.1M2123 445h.1M1942 545h.1M2118 959h.1M2286 661h.1M2140 152h.1M2194 941h.1M2337 937h.1M2236 375h.1M1988 258h.1M2082 156h.1M2043 978h.1M2239 720h.1M1977 531h.1M2126 934h.1M2205 334h.1M2022 147h.1M2129 647h.1M2085 946h.1M2242 572h.1M2083 675h.1M2215 751h.1M2047 431h.1M2012 176h.1M2045 294h.1M2033 505h.1M2078 748h.1M2022 731h.1M2303 524h.1M2266 119h.1M2023 127h.1M2127 408h.1M2122 266h.1M1922 774h.1M2324 228h.1M2236 382h.1M2237 622h.1M2243 996h.1M2033 889h.1M1998 808h.1M1977 237h.1M2098 243h.1M2266 80h.1M2061 593h.1M2263 982h.1M2146 229h.1M2009 631h.1M1973 858h.1M2282 740h.1M2339 477h.1M2334 236h.1M2021 555h.1M2302 53h.1M2288 402h.1M2291 868h.1M2302 586h.1M1961 334h.1M2065 669h.1M2058 516h.1M2068 641h.1M1975 418h.1M2298 319h.1M2124 791h.1M2216 492h.1M1940 877h.1M2316 804h.1M2248 894h.1M2296 500h.1M2081 482h.1M1966 229h.1M2213 753h.1M2215 600h.1M1976 407h.1M2330 959h.1M2038 404h.1M1989 389h.1M2106 315h.1M2311 118h.1M2102 111h.1M2067 778h.1M1952 601h.1M2162 590h.1M2131 638h.1M2025 298h.1M2252 212h.1M2274 907h.1M2160 313h.1M2101 536h.1M2217 947h.1M2097 241h.1M2045 956h.1M2001 287h.1M1921 632h.1M2117 836h.1M2193 672h.1M2212 484h.1M2039 62h.1M2084 56h.1M2002 406h.1M2139 410h.1M2003 768h.1M2048 384h.1M2006 112h.1M2243 481h.1M2153 882h.1M2300 600h.1M2328 565h.1M2299 496h.1M2025 523h.1M1979 410h.1M2009 479h.1M1948 462h.1M2161 995h.1M2351 677h.1M2109 764h.1M2317 708h.1M1992 629h.1M2129 924h.1M2203 976h.1M1928 715h.1M2004 494h.1M2283 1000h.1M2006 871h.1M1966 337h.1M2004 984h.1M1954 814h.1M2140 737h.1M1946 487h.1M2154 324h.1M2196 124h.1M1943 671h.1M2024 869h.1M2159 891h.1M2285 722h.1M2344 281h.1M2157 168h.1M2223 832h.1M2305 553h.1M2319 410h.1M2065 750h.1M2316 121h.1M2134 473h.1M1922 150h.1M2272 954h.1M2161 275h.1M2343 451h.1M1966 801h.1M2218 707h.1M2078 315h.1M2009 623h.1M2047 742h.1M2314 857h.1M1922 666h.1M1930 330h.1M2040 578h.1M1926 265h.1M2323 73h.1M2060 515h.1M1955 324h.1M2185 362h.1M2155 951h.1M1950 689h.1M1918 418h.1M2227 963h.1M2113 649h.1M2124 158h.1M1947 578h.1M2296 290h.1M2240 648h.1M2057 676h.1M1935 289h.1M2077 661h.1M1923 85h.1M2320 553h.1M2306 1002h.1M1981 407h.1M2346 51h.1M2344 1005h.1"/>
<path stroke="#2a10e8" stroke-width="4.4" d="M2243 418h.1M2208 64h.1M2064 79h.1M2097 701h.1M1916 905h.1M1947 271h.1M2080 152h.1M2240 697h.1M2169 457h.1M2172 405h.1M2203 904h.1M2251 396h.1M2301 344h.1M2209 755h.1M2090 871h.1M2340 159h.1M1927 326h.1M1919 993h.1M2027 194h.1M2168 962h.1M2295 885h.1M1995 302h.1M1946 715h.1M2065 681h.1M1922 757h.1M1964 993h.1M2027 513h.1M2273 651h.1M1943 934h.1M2234 768h.1M2135 202h.1M2199 343h.1M2278 360h.1M2205 564h.1M1975 700h.1M2338 101h.1M2169 667h.1M2280 350h.1M2276 756h.1M1992 761h.1M2107 240h.1M2015 366h.1M2236 191h.1M2193 828h.1M2138 917h.1M2227 540h.1M2337 573h.1M1973 250h.1M2274 866h.1M2082 390h.1M1999 858h.1M2346 947h.1M2104 902h.1M1997 112h.1M2157 375h.1M2121 114h.1M1985 513h.1M2132 731h.1M2236 414h.1M2108 315h.1M1976 430h.1M2166 1003h.1M2236 824h.1M2274 941h.1M2316 214h.1M2049 300h.1M2264 512h.1M2328 595h.1M1920 277h.1M2086 173h.1M2157 89h.1M2015 55h.1M1960 723h.1M2131 965h.1M1966 227h.1M1934 235h.1M2038 457h.1M2018 207h.1M2076 93h.1M2274 592h.1M2134 492h.1M2154 999h.1M2077 590h.1M2000 423h.1M1949 876h.1M2210 783h.1M2246 172h.1M2190 185h.1M2182 173h.1M1977 163h.1M2146 157h.1M2069 452h.1M2346 794h.1M2167 748h.1M1912 398h.1M2035 679h.1M1965 952h.1M2051 883h.1M2285 492h.1M1908 159h.1M2079 753h.1M2119 945h.1M2310 357h.1M2347 551h.1M1940 79h.1M2071 443h.1M1987 909h.1M2045 787h.1M2004 461h.1M2077 781h.1M2070 258h.1M2280 669h.1M1983 273h.1M1951 845h.1M2093 842h.1M2167 807h.1M2244 492h.1M2021 419h.1M2143 1002h.1M2035 751h.1M2021 652h.1M2234 45h.1M2231 879h.1M2310 884h.1M2077 185h.1M2059 891h.1M2208 529h.1M1910 113h.1M2154 881h.1M2178 391h.1M1910 246h.1M2181 325h.1M2146 83h.1M2147 486h.1M1917 833h.1M2257 155h.1M2186 869h.1M2135 767h.1M1962 101h.1M2012 781h.1M2036 855h.1M1937 507h.1M2101 824h.1M2205 758h.1M2177 196h.1M2246 736h.1M2232 486h.1M2096 186h.1M2270 462h.1M2332 305h.1M2122 382h.1M2177 973h.1M2006 414h.1M2038 135h.1M1923 998h.1M2054 723h.1M2255 660h.1M2025 689h.1M2317 484h.1M2304 872h.1M2250 713h.1M2334 526h.1M2316 129h.1M2223 158h.1M2072 606h.1M2215 700h.1M1987 129h.1M1970 638h.1M1987 925h.1M2210 334h.1M2188 114h.1M2176 193h.1M2188 312h.1M2153 719h.1M2005 100h.1M1970 849h.1M2331 598h.1M1944 619h.1M2058 210h.1M2239 875h.1M2144 596h.1M2328 47h.1M2288 937h.1M2285 574h.1M2304 521h.1M2071 523h.1M1926 73h.1M2138 611h.1M1938 778h.1M1974 249h.1M2119 788h.1M2124 909h.1M2244 584h.1M2294 377h.1M2165 663h.1M1948 297h.1M2344 338h.1M2312 93h.1M2018 267h.1M1908 740h.1M2011 607h.1M1950 595h.1M2127 497h.1M2258 381h.1M2225 819h.1M2015 330h.1M2179 220h.1M1909 628h.1M2220 147h.1M2161 500h.1M2134 944h.1M1926 221h.1M1944 639h.1M2290 560h.1M1921 528h.1M1956 127h.1M2042 862h.1M2217 990h.1M2122 223h.1M2069 125h.1M2085 623h.1M2199 976h.1M2075 128h.1M2291 212h.1M2052 182h.1M2223 892h.1M2001 601h.1M1918 702h.1M1971 345h.1M2153 487h.1M2252 76h.1M2001 235h.1M2080 861h.1M2336 969h.1M1990 241h.1M2035 611h.1M2279 533h.1M1924 699h.1M2183 407h.1M2145 275h.1M2040 608h.1M2072 373h.1M1971 887h.1M2137 875h.1M2171 115h.1M1923 213h.1M2071 209h.1M2063 925h.1M1914 116h.1M2224 747h.1M2021 116h.1M2057 712h.1M2030 531h.1M2101 903h.1M2181 376h.1M2082 164h.1M2261 227h.1M1957 357h.1M2202 551h.1M1911 603h.1M2237 748h.1M1998 117h.1M2073 247h.1M2333 699h.1M2043 836h.1M2174 84h.1M2004 292h.1M2315 659h.1M1991 858h.1M2080 997h.1M2153 56h.1M2087 689h.1M2100 678h.1M1949 59h.1M1949 657h.1M2006 829h.1M2259 168h.1M1933 686h.1M2218 897h.1M2063 70h.1M2243 619h.1M2332 336h.1M1911 98h.1M2301 384h.1M1940 72h.1M2191 390h.1M2237 628h.1M2010 628h.1M2083 689h.1M2016 335h.1M1982 173h.1M2086 634h.1M2168 227h.1M2080 464h.1M2004 641h.1M2059 139h.1M2211 210h.1M2064 786h.1M1964 573h.1M2170 304h.1M1957 433h.1M2011 413h.1M1969 428h.1M2317 53h.1M2162 445h.1M2283 782h.1M2108 290h.1M2327 832h.1M2300 126h.1M2082 494h.1M2038 258h.1M2052 208h.1M2333 910h.1M2183 594h.1M2348 523h.1M2246 75h.1M2096 228h.1M1945 854h.1M2232 385h.1M1961 811h.1M2064 795h.1M2177 737h.1M2173 967h.1M2014 882h.1M2185 713h.1M2345 77h.1M2026 740h.1M2258 284h.1M2117 870h.1M2340 978h.1M2000 409h.1M2098 510h.1M2290 509h.1M2038 651h.1M2258 627h.1M2320 987h.1M2239 897h.1M1946 602h.1M1918 304h.1M2193 704h.1M2276 850h.1M2028 469h.1M2250 245h.1M2299 74h.1M2075 84h.1M2032 853h.1M2345 454h.1M2012 355h.1M2280 230h.1M2249 341h.1M2018 906h.1M2005 949h.1M2104 1001h.1M2232 847h.1M2149 976h.1M2225 464h.1M1932 227h.1M2292 949h.1M1921 439h.1M2106 199h.1M1922 872h.1M2277 894h.1M2039 897h.1M2341 809h.1M2061 404h.1M2130 923h.1M2129 454h.1M1934 357h.1M2001 499h.1M2119 231h.1M1945 653h.1M2015 682h.1M2160 880h.1M2024 978h.1M2283 519h.1M2062 245h.1M2160 221h.1M2065 105h.1M2204 622h.1M2209 855h.1M2152 401h.1M2019 545h.1M2102 466h.1M2026 233h.1M2261 981h.1M2204 625h.1M1983 472h.1M2326 968h.1M1940 853h.1M2003 952h.1M2008 786h.1M2333 89h.1M1913 557h.1M2099 949h.1M2037 64h.1M2294 622h.1M2136 650h.1M2309 296h.1M2019 994h.1M2138 77h.1M2246 586h.1M1928 404h.1M2171 875h.1M2201 656h.1M2239 449h.1M2268 740h.1M1949 741h.1M2304 951h.1M2103 161h.1M2160 139h.1M2162 762h.1M2171 711h.1M2240 504h.1M2022 801h.1M2133 716h.1M2080 913h.1M2083 621h.1M2189 553h.1M2261 302h.1M1935 193h.1M2097 718h.1M1975 448h.1M2187 243h.1M2194 669h.1M2009 901h.1M2330 938h.1M2008 356h.1M2149 827h.1M1917 286h.1M2197 262h.1M2005 1002h.1M2178 707h.1M1947 330h.1M1961 283h.1M1967 153h.1M2249 310h.1M2305 54h.1M2050 334h.1M2086 601h.1M2131 378h.1M2058 726h.1M2048 712h.1M2131 273h.1M2243 562h.1M2190 117h.1M2111 537h.1M2090 402h.1M1966 521h.1M2253 604h.1M2045 229h.1M2073 346h.1M1992 438h.1M2066 556h.1M2277 388h.1M2207 208h.1M2013 871h.1M2239 730h.1M2272 902h.1M2324 742h.1M2320 302h.1M2119 226h.1M1954 425h.1M2058 651h.1M2088 194h.1M2128 361h.1M2248 706h.1M2332 972h.1M2163 295h.1M2158 331h.1M2139 774h.1M2229 485h.1M2043 72h.1M2289 844h.1M2177 821h.1M1993 678h.1M2037 833h.1M2085 505h.1M2069 455h.1M2295 979h.1M2026 815h.1M2333 542h.1M2173 835h.1M2202 560h.1M2306 582h.1M2257 924h.1M2048 845h.1M1991 564h.1M2199 868h.1M2048 976h.1M2241 931h.1M2021 570h.1M2108 968h.1M2269 202h.1M2312 392h.1M2118 97h.1M2134 914h.1M2113 75h.1M2282 496h.1M1952 714h.1M1989 630h.1M2093 282h.1M2100 331h.1M2116 606h.1M2132 97h.1M2161 952h.1M2287 450h.1M2251 207h.1M2223 214h.1M1943 681h.1M2065 540h.1M1929 262h.1M1941 936h.1M1958 929h.1M1938 238h.1M2223 652h.1M1930 364h.1M1964 368h.1M2066 561h.1M2241 75h.1M2208 938h.1M2056 680h.1M2106 328h.1M2144 100h.1M2209 561h.1M2025 74h.1M2321 673h.1M1927 802h.1M1956 483h.1M1960 928h.1M2192 703h.1M2061 358h.1M1935 890h.1M1966 630h.1M1999 134h.1M1928 358h.1M1959 852h.1M2179 219h.1M1919 495h.1M2282 282h.1M2165 277h.1M2339 282h.1M1999 634h.1M2035 873h.1M2247 710h.1M2332 457h.1M1925 347h.1M2019 214h.1M2085 103h.1M1908 550h.1M1974 837h.1M1957 135h.1M2168 817h.1M2255 872h.1M2113 283h.1M1918 950h.1M2169 949h.1M2280 680h.1M2247 208h.1M2308 864h.1M2119 465h.1M2127 591h.1M1981 956h.1M2064 79h.1M2173 182h.1M2352 937h.1M2243 108h.1M2282 220h.1M2188 209h.1M2226 723h.1M2062 274h.1M2282 951h.1M1982 1001h.1M2160 356h.1M2123 106h.1M2134 622h.1M2137 75h.1M2237 516h.1M1982 846h.1M2183 64h.1M2100 778h.1M2196 410h.1M2262 497h.1M1978 176h.1M2306 295h.1M2169 282h.1M2050 356h.1M1913 54h.1M1946 742h.1M2030 469h.1M2183 535h.1M2305 794h.1M2299 336h.1M2346 959h.1M2201 815h.1M1988 979h.1M1993 808h.1M1922 783h.1M2162 432h.1M2027 499h.1M2036 392h.1M2348 398h.1M2295 474h.1M2292 726h.1M2290 739h.1M2183 898h.1M2204 844h.1M2207 486h.1M2034 355h.1M2279 293h.1M2036 983h.1M2208 367h.1M2216 471h.1M1936 914h.1M1930 951h.1M2092 567h.1M2124 488h.1M2282 366h.1M2347 601h.1M2277 205h.1M1991 343h.1M2295 436h.1M2263 698h.1M1987 521h.1M1964 530h.1M1981 688h.1M2111 613h.1M2107 592h.1M2094 331h.1M2331 552h.1M1973 382h.1M2252 568h.1M2121 595h.1M2229 985h.1M1970 944h.1M2113 639h.1M2096 486h.1M2083 779h.1M2123 785h.1M1953 69h.1M2014 268h.1M2021 470h.1M2204 912h.1M2348 664h.1M2307 541h.1M2239 898h.1M2215 435h.1M2270 786h.1M2342 830h.1M2167 265h.1M1911 267h.1M2221 188h.1M2221 297h.1M1981 873h.1M1963 863h.1M2177 301h.1M2012 609h.1M2023 622h.1M2181 69h.1M2024 748h.1M1969 765h.1M2253 831h.1M2301 393h.1M2328 87h.1M1933 613h.1M1935 545h.1M2045 702h.1M2099 360h.1M2200 975h.1M2011 110h.1M1978 922h.1M2232 47h.1M2001 783h.1M1971 512h.1M1991 317h.1M2106 507h.1M2291 508h.1M2330 542h.1M2114 323h.1M2079 979h.1M2147 221h.1M1965 657h.1M2150 530h.1M2181 116h.1M1935 314h.1M2032 731h.1M2294 594h.1M2258 808h.1M2084 590h.1M2265 958h.1M2266 444h.1M1949 282h.1M2143 245h.1M2235 299h.1M2101 429h.1M2345 445h.1M2207 963h.1M2238 733h.1M2276 432h.1M2013 262h.1M1952 117h.1"/>
<path stroke="#0508e2" stroke-width="4.4" d="M2292 931h.1M2274 259h.1M1925 753h.1M2151 605h.1M2085 618h.1M2237 509h.1M2100 466h.1M1924 400h.1M2079 286h.1M2216 815h.1M2083 750h.1M2135 339h.1M1920 342h.1M2300 848h.1M2327 801h.1M2191 98h.1M1940 850h.1M1968 165h.1M2314 443h.1M1947 261h.1M2013 517h.1M1942 537h.1M2049 124h.1M2103 610h.1M2044 362h.1M2056 962h.1M2293 356h.1M2236 858h.1M2207 716h.1M1943 820h.1M1932 992h.1M1998 259h.1M2114 414h.1M1961 203h.1M2338 241h.1M1922 350h.1M2118 111h.1M2211 498h.1M2276 278h.1M1928 575h.1M2351 80h.1M2238 468h.1M2222 386h.1M2278 580h.1M2050 364h.1M2197 316h.1M2047 946h.1M2006 706h.1M1978 234h.1M2215 409h.1M2109 266h.1M2315 734h.1M2017 389h.1M2026 803h.1M2183 354h.1M2146 787h.1M2016 422h.1M2088 579h.1M1927 362h.1M1999 176h.1M2061 266h.1M2201 143h.1M2276 878h.1M2330 151h.1M1938 962h.1M1948 165h.1M1996 630h.1M2261 108h.1M2065 409h.1M2327 636h.1M2112 407h.1M2065 288h.1M2222 197h.1M2150 790h.1M2133 467h.1M2189 107h.1M1944 135h.1M2036 433h.1M2047 376h.1M2215 811h.1M2231 721h.1M1927 365h.1M2085 642h.1M2099 614h.1M2258 596h.1M2011 917h.1M2286 503h.1M2238 109h.1M2174 616h.1M2323 736h.1M1915 518h.1M2331 174h.1M2200 390h.1M2090 922h.1M2277 382h.1M2206 306h.1M2153 221h.1M2255 177h.1M1938 62h.1M2275 705h.1M2202 921h.1M2220 83h.1M1938 95h.1M1954 149h.1M2021 350h.1M2154 491h.1M2235 441h.1M2348 736h.1M1907 446h.1M2040 791h.1M1933 884h.1M2182 885h.1M2054 928h.1M1934 735h.1M1956 913h.1M2044 635h.1M2042 662h.1M2110 288h.1M1940 926h.1M2116 384h.1M2249 721h.1M2273 778h.1M2301 800h.1M2191 793h.1M2312 209h.1M2082 492h.1M2211 255h.1M2155 414h.1M1980 257h.1M2333 260h.1M2005 397h.1M1944 329h.1M2310 420h.1M2155 532h.1M2278 730h.1M2210 384h.1M2131 90h.1M1966 557h.1M2274 429h.1M1938 739h.1M2062 366h.1M2311 551h.1M2327 996h.1M1920 758h.1M2144 89h.1M2208 429h.1M2189 150h.1M1965 704h.1M2155 180h.1M2183 685h.1M2148 716h.1M1961 956h.1M1972 126h.1M2165 835h.1M2284 468h.1M2076 711h.1M1955 682h.1M1921 67h.1M2166 588h.1M2078 285h.1M2278 651h.1M2027 182h.1M2215 959h.1M2254 253h.1M1958 630h.1M1946 802h.1M1946 340h.1M1951 74h.1M2011 311h.1M2226 522h.1M2302 418h.1M2130 672h.1M2125 407h.1M2239 816h.1M2293 243h.1M2107 469h.1M2271 270h.1M2021 729h.1M2284 829h.1M1932 480h.1M2068 787h.1M2101 249h.1M1913 947h.1M2297 579h.1M2196 579h.1M2066 334h.1M2133 333h.1M2156 505h.1M2103 97h.1M2248 744h.1M2275 221h.1M2114 643h.1M2227 499h.1M2107 982h.1M2101 979h.1M2116 290h.1M2069 753h.1M2128 785h.1M2237 545h.1M2245 298h.1M1997 795h.1M1938 108h.1M1951 409h.1M1950 218h.1M2220 173h.1M2111 603h.1M2326 361h.1M1953 818h.1M1989 784h.1M1970 58h.1M2290 675h.1M1950 291h.1M2259 145h.1M2299 151h.1M2148 221h.1M2151 214h.1M1958 394h.1M2223 551h.1M2153 536h.1M2161 183h.1M2107 128h.1M1952 266h.1M1920 190h.1M2085 65h.1M2341 891h.1M2231 294h.1M2187 217h.1M2348 730h.1M2088 483h.1M2080 870h.1M2186 146h.1M1949 807h.1M2037 458h.1M2178 326h.1M2242 721h.1M1941 607h.1M2321 679h.1M2006 305h.1M2289 792h.1M2024 527h.1M2058 828h.1M1937 71h.1M2351 264h.1M2010 852h.1M2304 616h.1M1988 277h.1M1989 46h.1M1918 471h.1M2165 174h.1M1917 224h.1M1954 124h.1M2021 296h.1M1957 155h.1M1922 501h.1M1937 662h.1M2309 243h.1M2005 752h.1M2150 96h.1M2323 78h.1M2154 238h.1M2244 185h.1M2144 502h.1M2092 493h.1M2105 312h.1M2113 179h.1M1966 592h.1M2114 604h.1M2142 622h.1M2029 988h.1M2023 285h.1M2031 78h.1M2348 859h.1M2340 483h.1M2276 808h.1M2002 562h.1M1934 818h.1M2063 842h.1M2182 587h.1M2029 799h.1M2002 172h.1M2048 692h.1M2229 123h.1M2317 237h.1M2300 576h.1M2344 127h.1M2168 506h.1M1992 764h.1M2116 874h.1M2280 269h.1M2053 291h.1M2238 844h.1M2262 45h.1M2176 76h.1M2347 902h.1M2068 380h.1M1956 572h.1M2196 745h.1M1970 571h.1M2219 830h.1M1915 511h.1M2041 569h.1M2147 423h.1M2334 650h.1M2048 949h.1M2060 796h.1M2240 176h.1M2062 271h.1M2331 461h.1M2299 634h.1M2248 266h.1M2076 835h.1M2222 933h.1M2253 688h.1M2207 308h.1M1970 612h.1M2170 877h.1M2019 281h.1M2318 507h.1M2123 668h.1M1911 222h.1M2313 166h.1M2319 930h.1M1934 542h.1M2041 685h.1M2322 339h.1M1969 942h.1M2251 397h.1M2285 549h.1M1953 406h.1M2237 345h.1M2195 212h.1M2255 241h.1M2056 787h.1M1994 480h.1M2268 659h.1M1942 142h.1M2251 96h.1M1977 103h.1M1993 639h.1M2042 69h.1M2197 606h.1M2150 622h.1M2189 231h.1M1913 423h.1M1914 445h.1M2275 148h.1M2211 629h.1M2284 549h.1M2212 778h.1M2180 243h.1M2322 501h.1M2005 859h.1M2187 404h.1M2236 495h.1M2199 885h.1M1916 767h.1M2316 839h.1M2351 454h.1M2014 388h.1M1922 669h.1M1965 873h.1M2349 454h.1M2240 315h.1M2349 929h.1M2203 561h.1M1916 980h.1M1909 932h.1M2121 998h.1M2082 372h.1M2190 751h.1M2166 72h.1M1984 435h.1M2052 669h.1M2335 646h.1M2165 102h.1M2039 819h.1M2273 201h.1M2217 865h.1M2320 490h.1M2084 111h.1M2035 131h.1M2146 254h.1M2300 211h.1M1931 914h.1M2177 625h.1M2197 97h.1M1939 351h.1M2102 528h.1M2232 611h.1M2123 801h.1M2153 99h.1M2131 394h.1M2069 239h.1M2219 254h.1M1964 674h.1M2264 919h.1M2007 49h.1M2146 987h.1M2011 381h.1M2306 677h.1M2176 747h.1M1980 482h.1M2003 625h.1M2195 543h.1M2242 191h.1M2115 53h.1M2013 140h.1M2040 912h.1M2311 322h.1M2153 307h.1M2015 506h.1M2323 917h.1M2304 938h.1M2286 191h.1M1914 354h.1M1933 268h.1M1992 529h.1M2322 701h.1M2214 491h.1M2287 686h.1M2339 97h.1M2061 667h.1M2057 410h.1M2073 831h.1M2006 748h.1M1998 648h.1M2163 227h.1M2174 195h.1M2158 707h.1M2025 273h.1M2022 83h.1M2157 633h.1M2316 138h.1M2052 982h.1M2149 504h.1M2099 563h.1M2250 97h.1M2117 114h.1M1952 414h.1M1979 239h.1M2106 878h.1M2329 515h.1M2013 570h.1M2059 844h.1M2332 58h.1M1924 725h.1M2338 299h.1M2186 60h.1M2238 524h.1M2343 948h.1M1960 240h.1M2183 183h.1M2176 784h.1M2143 469h.1M2345 879h.1M2236 667h.1M1981 241h.1M2194 754h.1M2052 565h.1M2044 883h.1M2117 316h.1M2274 436h.1M2240 278h.1M2170 407h.1M1992 686h.1M2241 621h.1M2114 755h.1M1957 72h.1M2003 750h.1M2149 339h.1M2210 380h.1M2062 793h.1M2342 995h.1M2032 619h.1M2007 221h.1M2007 749h.1M2247 468h.1M2045 334h.1M2056 825h.1M2085 263h.1M2281 195h.1M2325 429h.1M2259 537h.1M2218 677h.1M2166 940h.1M2155 571h.1M2252 488h.1M2072 666h.1M2103 222h.1M2166 380h.1M2135 849h.1M2338 1000h.1M1946 918h.1M2338 448h.1M2076 488h.1M1952 701h.1M2015 242h.1M2113 843h.1M1939 576h.1M2319 879h.1M1972 307h.1M1923 794h.1M1935 629h.1M2280 701h.1M2283 629h.1M1928 212h.1M2302 173h.1M2063 443h.1M2233 1001h.1M2252 173h.1M1935 508h.1M1970 422h.1M2182 522h.1M2063 436h.1M2352 790h.1M1962 501h.1M2228 975h.1M2043 823h.1M2240 152h.1M1924 115h.1M1951 711h.1M1924 778h.1M2166 934h.1M2039 892h.1M2323 517h.1M2080 557h.1M2271 885h.1M2189 237h.1M1915 836h.1M2258 368h.1M2034 866h.1M2073 193h.1M2197 996h.1M2182 110h.1M1998 354h.1M2345 241h.1M2041 90h.1M2044 863h.1M2040 758h.1M2349 168h.1M2022 405h.1M1915 77h.1M2316 993h.1M2105 924h.1M2002 429h.1M2209 325h.1M2203 623h.1M2338 830h.1M2058 598h.1M2123 541h.1M2148 487h.1M1922 185h.1M2016 960h.1M2319 687h.1M2309 798h.1M2184 302h.1M1990 74h.1M2324 358h.1M2344 73h.1M2141 955h.1M1930 1005h.1M2246 318h.1M2341 813h.1M2031 931h.1M2015 875h.1M2282 688h.1M2141 343h.1M1981 455h.1M1971 556h.1M2171 753h.1M2077 461h.1M2234 400h.1M1951 895h.1M1976 99h.1M2014 858h.1M2243 154h.1M2194 881h.1M2324 562h.1M2293 388h.1M1920 193h.1M2026 84h.1M2337 1005h.1M2304 553h.1M2100 358h.1M2160 169h.1M2250 373h.1M2264 141h.1M2030 840h.1M2257 675h.1M2163 991h.1M2202 348h.1M1994 458h.1M2321 208h.1M2294 772h.1M1982 57h.1M1936 544h.1M2019 733h.1M2153 412h.1M2155 738h.1M2223 176h.1M2020 236h.1M2176 959h.1M2116 101h.1M2081 324h.1M2108 978h.1M2337 578h.1M2231 67h.1M2164 637h.1M2281 459h.1M2094 863h.1M1968 964h.1M2219 879h.1M2297 425h.1M2319 737h.1M2185 169h.1M2129 584h.1M1973 366h.1M2120 256h.1M2017 428h.1M1966 342h.1M2085 288h.1M2006 449h.1M2203 100h.1M2054 317h.1M2168 136h.1M1961 949h.1M2151 616h.1M1979 60h.1M1945 86h.1M2069 277h.1M2334 84h.1M1908 124h.1M1911 512h.1M2086 338h.1M2335 762h.1M1992 135h.1M2301 862h.1M1941 851h.1M2178 793h.1M2230 351h.1M2288 85h.1M2323 94h.1M2203 495h.1M2190 938h.1M2230 522h.1M2213 398h.1M1970 175h.1M2026 910h.1M2101 706h.1M2057 840h.1M2188 284h.1M1931 789h.1M1986 776h.1M1970 821h.1M2217 218h.1M2107 674h.1M1988 235h.1M1987 107h.1M2332 255h.1M2151 216h.1M2028 897h.1M1991 113h.1M2281 534h.1M2106 945h.1M2068 793h.1M2086 458h.1M2234 426h.1M1919 297h.1M2293 356h.1M2177 627h.1M2262 408h.1M2205 397h.1M2022 115h.1M2270 120h.1M2077 660h.1M2028 525h.1M2276 758h.1M2061 913h.1M2291 828h.1M2005 428h.1M2351 612h.1M2016 473h.1M2070 589h.1M2047 954h.1M2129 515h.1M1921 267h.1M1998 447h.1M1937 336h.1M2280 524h.1M2307 435h.1M2167 873h.1M2070 494h.1M2092 551h.1M2030 737h.1M2004 108h.1M1963 195h.1M2128 787h.1M2096 202h.1M1954 781h.1M2082 67h.1M2214 832h.1M2332 877h.1M1921 701h.1M2162 410h.1M1957 183h.1M2253 352h.1M2189 600h.1M2229 726h.1M2077 188h.1M2134 292h.1M2239 584h.1M2167 751h.1M2226 502h.1M2271 783h.1M2258 134h.1M2257 580h.1M2115 784h.1M2298 832h.1M1930 890h.1M1984 573h.1M2316 250h.1M2208 365h.1M1979 870h.1M2260 922h.1M1935 238h.1M1942 113h.1M2126 834h.1M2272 54h.1M2050 353h.1M2334 314h.1M2249 208h.1M1997 673h.1M2160 586h.1M1979 849h.1M2281 279h.1M2162 361h.1M1992 951h.1M2155 136h.1M2101 290h.1M2342 318h.1M2119 361h.1M1955 897h.1M2220 927h.1M2289 625h.1M2165 717h.1M2080 741h.1M1966 607h.1M2219 176h.1M1927 441h.1M2250 344h.1M1981 717h.1M2231 316h.1M1979 464h.1M1987 55h.1M2275 549h.1M1989 327h.1M2049 460h.1M2322 818h.1M1956 725h.1M2109 288h.1M1937 644h.1M2338 75h.1M2313 864h.1M2053 733h.1M2221 712h.1M2185 823h.1M2291 276h.1M2134 918h.1M1951 574h.1M2262 909h.1M2200 547h.1M2127 298h.1M2058 707h.1M2300 956h.1M2320 302h.1M2016 123h.1M2307 582h.1M2055 668h.1M2275 742h.1M1992 583h.1M1915 312h.1M2160 661h.1M2001 699h.1M2063 102h.1M2346 584h.1M2177 200h.1M2244 112h.1M1980 845h.1M2248 471h.1M1977 509h.1M2028 401h.1M1985 920h.1M2274 991h.1M2062 460h.1M2212 926h.1M1964 176h.1M1937 91h.1M2004 332h.1M2106 704h.1M2241 907h.1M2261 341h.1M2347 375h.1M1969 902h.1M2314 456h.1M1991 349h.1M2325 139h.1M2228 79h.1M2195 822h.1M2174 54h.1M1938 515h.1M2246 166h.1M2078 964h.1M1911 984h.1M1991 225h.1M2287 976h.1M2236 52h.1M1982 974h.1M2155 810h.1M2269 594h.1M2011 343h.1M2291 974h.1M1999 700h.1M2253 219h.1M2163 688h.1M2080 409h.1M2051 754h.1M2305 618h.1M1948 751h.1M2075 929h.1M2111 626h.1M2173 903h.1M2210 574h.1M2169 629h.1M2225 933h.1M2091 517h.1M2239 882h.1M2271 725h.1M2168 173h.1M1934 161h.1M2246 97h.1M2007 661h.1M2085 68h.1M2330 876h.1M1912 603h.1M2318 153h.1M2121 404h.1M2350 111h.1M1937 468h.1M2117 421h.1M2174 314h.1M2235 462h.1M2343 119h.1M2190 239h.1M2185 564h.1M2020 419h.1M2140 647h.1M2308 598h.1M2301 608h.1M2158 181h.1M2210 1000h.1M2003 823h.1M2178 118h.1M2012 512h.1M1961 125h.1M2075 971h.1M2023 980h.1M1987 428h.1M2295 431h.1M2295 589h.1M2168 825h.1M2253 168h.1M2151 943h.1M2040 190h.1M2319 674h.1M2256 657h.1M1956 915h.1M2005 854h.1M2129 398h.1M2008 914h.1M2280 185h.1M2341 232h.1M2337 641h.1M2136 754h.1M2281 441h.1M2288 890h.1M2096 754h.1M2187 602h.1M2167 197h.1M2287 678h.1M1951 556h.1M2005 483h.1M2248 86h.1M2238 434h.1M1950 143h.1M2339 446h.1M2028 779h.1M1909 963h.1M2152 112h.1M2160 861h.1M2145 83h.1"/>
<path stroke="#0cb0f0" d="M1937 260h.1M1941 268l-1 -1M1947 247l-1 -0M1944 274l-1 0M1945 291l-2 0M1945 299l-4 1M1943 313h.1M1951 204h.1M1946 281l-1 -0M1954 211l-2 -0M1953 220l-4 -1M1954 239l-3 -2M1961 314l-2 0M1968 319l-4 2M1972 333h.1M1978 325l-4 2M1978 335h.1M1990 188l-2 -2M1991 353h.1M1999 177l-0 -1M2001 344l-4 4M2002 349l-1 2M2011 162h.1M2016 173l-1 -1M2015 354l-4 4M2018 167l-0 -4M2029 161l-1 -2M2026 362l-1 3M2029 145h.1M2036 163l-1 -1M2029 168l-3 -4M2040 153l-1 -4M2039 147h.1M2045 358l0 3M2046 372h.1M2064 365l-0 3M2080 151h.1M2086 163l0 -1M2088 367l-1 3M2103 162l2 -2M2141 188l2 -3M2140 209l3 -2M2142 219l2 0M2146 219l2 -1M2146 229l5 -3M2149 266l3 0M2150 276l2 1M2151 245l1 -0M2152 251l3 -1M2151 260l1 -1M2151 269l2 1M2158 215h.1M1990 731h.1M1989 762h.1M1997 722l-2 0M1994 753h.1M2001 711l-1 0M2000 735l-5 -1M2003 741l-1 -0M2001 771l-2 -1M2004 705l-1 -1M2004 713l-2 -1M2007 794l-4 3M2011 798l-4 2M2019 818l-1 2M2025 814l-4 2M2037 824l-4 1M2036 846h.1M2054 657h.1M2072 660l-0 -1M2082 868l-2 4M2086 883h.1M2093 651l-1 -1M2098 653l-1 -2M2098 872l3 4M2108 653l1 -3M2115 654l-1 -2M2114 879l0 1M2120 873l1 4M2122 882h.1M2128 877l0 4M2140 870l0 2M2139 884h.1M2147 648l1 -1M2166 856l5 4M2170 857l3 4M2169 862l3 2M2172 652l5 -5M2188 839l2 2M2196 829l3 4M2197 832l1 1M2206 797l1 1M2217 794h.1M2225 768l2 0"/>
<path stroke="#08d868" d="M1953 225l-1 -0M1949 254l-1 0M1954 303l-4 2M1957 307l-2 1M1964 198l-4 -1M1970 314l-5 2M1978 196l-3 -1M2008 355l-3 4M2013 360l0 3M2021 173l-3 -1M2016 353l-3 2M2023 356l-1 3M2038 161l-1 -1M2043 156l3 -3M2039 365l-3 3M2050 361l2 3M2084 360l1 4M2089 166l-0 -4M2094 159l0 -2M2094 166l-1 -2M2151 244l2 -2M1996 741l-2 -1M2002 752l-5 3M2015 789l-3 1M2016 802l-3 -3M2023 818l-1 1M2053 845l-2 2M2059 846l-2 2M2063 662l-1 -3M2074 862l0 -1M2082 859l-2 3M2095 648l0 -5M2096 867l1 2M2103 872l-0 3M2108 871l0 1M2112 876l0 1M2115 871l-1 3M2127 652l1 -1M2132 654l-2 -4M2131 872l-1 2M2160 657l-0 -1M2195 836l3 4M2199 825l2 3M2201 683l2 -1M2205 812l4 3M2201 820l2 2M2207 824l1 2M2215 780l2 0"/>
<path stroke="#b09078" d="M1948 261l-2 -0M1958 217l-1 -1M2005 178l-1 -2M2021 359l-3 3M2029 156l2 -4M2045 362l-2 4M2050 152l0 -2M2050 371h.1M2069 152l2 -5M2067 162l2 -3M2068 359l0 1M2097 170l4 -4M2117 176l1 -1M2128 188l4 -3M2143 226l3 1M2142 235l2 -1M1995 711h.1M2003 721l-1 -0M2007 700l-2 -2M2026 824l-2 5M2046 840l1 3M2055 856h.1M2063 851l-1 3M2090 648l1 -2M2086 871l-1 2M2098 635h.1M2125 643h.1M2146 873h.1M2151 652l3 -3M2213 712l1 2M2209 789l3 0M2210 793l2 2M2216 781l2 1"/>
<path stroke="#10d070" d="M1952 267h.1M1957 283h.1M1964 299h.1M1968 224h.1M1965 272h.1M1973 203h.1M1978 313h.1M1984 314h.1M1987 318h.1M1988 324h.1M1994 322h.1M2009 330h.1M2007 333h.1M2011 343h.1M2016 349h.1M2027 183h.1M2027 350h.1M2034 180h.1M2044 172h.1M2049 344h.1M2047 354h.1M2061 162h.1M2055 175h.1M2064 166h.1M2065 177h.1M2080 178h.1M2093 346h.1M2101 177h.1M2111 178h.1M2121 188h.1M2131 193h.1M2129 220h.1M2129 230h.1M2131 288h.1M2129 319h.1M2138 224h.1M2137 235h.1M2134 242h.1M2135 263h.1M2139 265h.1M2137 275h.1M2143 248h.1M2141 250h.1M2143 276h.1M2139 293h.1M2146 260h.1M2010 741h.1M2011 752h.1M2013 709h.1M2015 752h.1M2017 703h.1M2016 725h.1M2021 770h.1M2022 707h.1M2028 778h.1M2027 789h.1M2037 698h.1M2042 700h.1M2037 819h.1M2048 816h.1M2053 678h.1M2053 690h.1M2070 831h.1M2076 847h.1M2074 849h.1M2081 840h.1M2090 658h.1M2085 664h.1M2087 856h.1M2095 668h.1M2099 860h.1M2104 663h.1M2107 669h.1M2111 662h.1M2108 862h.1M2112 867h.1M2119 668h.1M2117 866h.1M2124 857h.1M2134 658h.1M2130 663h.1M2153 857h.1M2159 847h.1M2163 843h.1M2173 664h.1M2180 830h.1M2188 813h.1M2194 823h.1M2202 772h.1M2206 761h.1M2203 779h.1M2208 745h.1M2214 758h.1"/>
<path stroke="#d03060" d="M1947 272l-3 -0M2039 361l1 3M2072 163l1 -1M2113 167l-1 -1M2139 199l1 -1M2006 757l-3 0M2017 809l-3 2M2029 684l-2 -4M2037 831l-3 2M2210 811l4 3M2223 771l3 2"/>
<path stroke="#f02040" d="M1952 277h.1M1953 262h.1M1957 267h.1M1964 245h.1M1961 259h.1M1962 262h.1M1960 279h.1M1963 284h.1M1961 292h.1M1967 210h.1M1965 218h.1M1968 233h.1M1966 252h.1M1965 292h.1M1973 209h.1M1974 213h.1M1973 217h.1M1971 229h.1M1971 236h.1M1977 219h.1M1983 198h.1M1988 204h.1M1995 193h.1M1989 198h.1M1997 194h.1M1994 200h.1M2000 189h.1M2002 323h.1M2003 331h.1M2005 341h.1M2008 186h.1M2010 192h.1M2015 183h.1M2014 186h.1M2021 339h.1M2022 345h.1M2033 171h.1M2028 344h.1M2035 167h.1M2039 172h.1M2045 345h.1M2048 167h.1M2054 167h.1M2056 173h.1M2049 343h.1M2055 351h.1M2057 167h.1M2063 171h.1M2059 344h.1M2068 173h.1M2068 348h.1M2074 348h.1M2069 356h.1M2080 345h.1M2086 349h.1M2083 355h.1M2091 184h.1M2086 345h.1M2089 348h.1M2099 181h.1M2102 187h.1M2100 342h.1M2102 348h.1M2109 341h.1M2108 187h.1M2115 339h.1M2119 319h.1M2125 207h.1M2124 207h.1M2122 312h.1M2123 317h.1M2125 327h.1M2129 199h.1M2133 202h.1M2131 215h.1M2133 222h.1M2132 304h.1M2135 215h.1M2136 220h.1M2135 245h.1M2135 297h.1M2144 249h.1M2006 721h.1M2005 734h.1M2013 721h.1M2013 762h.1M2013 769h.1M2020 783h.1M2019 793h.1M2025 699h.1M2023 720h.1M2021 747h.1M2024 783h.1M2028 804h.1M2025 808h.1M2030 816h.1M2033 694h.1M2036 810h.1M2036 816h.1M2036 820h.1M2040 694h.1M2044 816h.1M2047 685h.1M2050 690h.1M2045 695h.1M2047 826h.1M2052 682h.1M2051 694h.1M2053 819h.1M2050 827h.1M2057 674h.1M2061 687h.1M2060 835h.1M2063 830h.1M2066 836h.1M2065 841h.1M2071 673h.1M2071 680h.1M2071 842h.1M2072 846h.1M2072 663h.1M2077 674h.1M2083 658h.1M2086 851h.1M2085 860h.1M2095 661h.1M2092 861h.1M2107 656h.1M2101 853h.1M2103 861h.1M2112 658h.1M2113 855h.1M2120 659h.1M2122 657h.1M2120 662h.1M2121 853h.1M2132 658h.1M2128 670h.1M2128 850h.1M2126 861h.1M2136 663h.1M2141 669h.1M2140 858h.1M2147 658h.1M2144 663h.1M2147 845h.1M2145 851h.1M2147 856h.1M2148 661h.1M2153 847h.1M2156 662h.1M2157 841h.1M2157 851h.1M2162 662h.1M2164 668h.1M2161 673h.1M2170 667h.1M2165 674h.1M2170 834h.1M2169 847h.1M2177 679h.1M2174 840h.1M2173 846h.1M2178 673h.1M2178 843h.1M2185 683h.1M2186 689h.1M2195 689h.1M2190 692h.1M2193 700h.1M2191 799h.1M2194 803h.1M2199 697h.1M2199 711h.1M2198 783h.1M2195 788h.1M2194 797h.1M2199 805h.1M2198 814h.1M2194 821h.1M2203 716h.1M2202 806h.1M2211 719h.1M2210 730h.1M2209 756h.1M2207 769h.1M2209 775h.1M2208 776h.1M2213 718h.1M2219 733h.1M2215 763h.1M2219 738h.1"/>
<path stroke="#a8806a" d="M1955 250h.1M1959 255h.1M1959 229h.1M1972 312h.1M1980 205h.1M1984 320h.1M2003 199h.1M2020 349h.1M2027 170h.1M2034 350h.1M2031 355h.1M2035 180h.1M2042 164h.1M2045 349h.1M2073 346h.1M2081 170h.1M2109 175h.1M2109 350h.1M2114 185h.1M2116 322h.1M2126 213h.1M2132 300h.1M2144 259h.1M2010 734h.1M2010 744h.1M2014 774h.1M2018 730h.1M2014 755h.1M2016 777h.1M2022 767h.1M2026 794h.1M2037 688h.1M2055 825h.1M2064 678h.1M2060 684h.1M2076 670h.1M2075 839h.1M2083 665h.1M2081 854h.1M2092 852h.1M2101 857h.1M2106 857h.1M2114 661h.1M2114 862h.1M2130 855h.1M2151 657h.1M2159 668h.1M2165 845h.1M2166 851h.1M2181 824h.1M2186 826h.1M2184 831h.1M2194 793h.1M2192 808h.1M2193 828h.1M2195 810h.1M2203 696h.1M2205 720h.1M2203 731h.1M2206 751h.1M2207 714h.1"/>
<path stroke="#10a8f0" d="M1955 271h.1M1958 277h.1M1965 225h.1M1963 266h.1M1967 228h.1M1970 299h.1M1965 305h.1M1973 302h.1M1988 193h.1M1992 204h.1M1992 318h.1M1995 315h.1M1997 320h.1M2003 197h.1M2000 334h.1M2010 182h.1M2013 194h.1M2014 333h.1M2023 182h.1M2019 187h.1M2038 346h.1M2034 354h.1M2047 165h.1M2039 178h.1M2050 172h.1M2051 348h.1M2056 161h.1M2054 352h.1M2077 174h.1M2072 178h.1M2079 173h.1M2088 179h.1M2096 348h.1M2109 182h.1M2117 187h.1M2129 291h.1M2134 230h.1M2136 288h.1M2141 238h.1M2142 266h.1M2139 283h.1M2143 270h.1M2011 716h.1M2013 733h.1M2016 713h.1M2016 748h.1M2017 750h.1M2017 762h.1M2018 766h.1M2022 757h.1M2026 771h.1M2021 798h.1M2025 804h.1M2030 791h.1M2028 798h.1M2039 703h.1M2043 820h.1M2060 825h.1M2062 674h.1M2068 846h.1M2072 835h.1M2078 854h.1M2083 845h.1M2089 846h.1M2092 662h.1M2099 659h.1M2097 662h.1M2119 856h.1M2127 671h.1M2132 671h.1M2142 660h.1M2159 849h.1M2176 834h.1M2181 835h.1M2182 844h.1M2189 820h.1M2205 783h.1M2203 795h.1M2212 753h.1"/>
<path stroke="#fa1a32" d="M1970 245h.1M1967 261h.1M1968 267h.1M1970 288h.1M1973 237h.1M1975 244h.1M1976 267h.1M1971 271h.1M1976 277h.1M1974 283h.1M1984 236h.1M1974 241h.1M1980 246h.1M1981 250h.1M1980 257h.1M1981 266h.1M1976 270h.1M1981 278h.1M1979 282h.1M1980 289h.1M1989 213h.1M1982 220h.1M1984 231h.1M1985 235h.1M1985 250h.1M1982 261h.1M1984 271h.1M1984 296h.1M1989 308h.1M1992 214h.1M1990 217h.1M1990 231h.1M1989 240h.1M1993 246h.1M1991 257h.1M1990 263h.1M1992 267h.1M1991 275h.1M1992 286h.1M1988 293h.1M1991 299h.1M1994 208h.1M2001 215h.1M1999 225h.1M1998 236h.1M1994 250h.1M1996 294h.1M1996 303h.1M2005 205h.1M2002 223h.1M2006 207h.1M2007 219h.1M2006 293h.1M2007 314h.1M2008 320h.1M2006 323h.1M2014 203h.1M2011 208h.1M2015 221h.1M2014 300h.1M2015 307h.1M2011 314h.1M2014 319h.1M2018 329h.1M2022 194h.1M2021 203h.1M2019 208h.1M2017 303h.1M2022 307h.1M2019 318h.1M2017 323h.1M2022 330h.1M2027 193h.1M2024 197h.1M2024 204h.1M2024 315h.1M2024 323h.1M2027 330h.1M2023 334h.1M2028 338h.1M2031 187h.1M2032 192h.1M2031 205h.1M2029 209h.1M2031 313h.1M2036 329h.1M2032 334h.1M2041 182h.1M2035 187h.1M2035 198h.1M2040 318h.1M2038 326h.1M2040 328h.1M2034 336h.1M2038 339h.1M2043 182h.1M2040 190h.1M2044 192h.1M2043 198h.1M2044 318h.1M2043 324h.1M2041 335h.1M2047 177h.1M2049 187h.1M2051 193h.1M2050 317h.1M2049 325h.1M2050 331h.1M2051 340h.1M2055 182h.1M2052 188h.1M2056 194h.1M2051 325h.1M2058 340h.1M2062 193h.1M2064 203h.1M2062 318h.1M2061 328h.1M2059 335h.1M2062 340h.1M2068 182h.1M2066 202h.1M2068 319h.1M2072 195h.1M2073 200h.1M2074 202h.1M2068 323h.1M2069 334h.1M2072 339h.1M2075 181h.1M2076 191h.1M2079 194h.1M2078 199h.1M2075 326h.1M2079 330h.1M2075 343h.1M2082 189h.1M2088 204h.1M2083 207h.1M2084 320h.1M2089 186h.1M2089 195h.1M2089 203h.1M2087 207h.1M2091 309h.1M2088 315h.1M2088 325h.1M2094 340h.1M2093 186h.1M2096 192h.1M2097 205h.1M2093 209h.1M2096 214h.1M2098 299h.1M2096 308h.1M2091 311h.1M2097 331h.1M2093 334h.1M2104 195h.1M2098 200h.1M2099 208h.1M2104 214h.1M2102 224h.1M2102 296h.1M2099 301h.1M2102 305h.1M2103 319h.1M2099 325h.1M2102 329h.1M2109 194h.1M2107 199h.1M2110 204h.1M2108 212h.1M2106 219h.1M2109 224h.1M2109 237h.1M2104 240h.1M2107 245h.1M2108 252h.1M2110 254h.1M2107 277h.1M2107 308h.1M2104 325h.1M2105 334h.1M2110 198h.1M2114 206h.1M2111 209h.1M2114 215h.1M2110 232h.1M2116 235h.1M2113 253h.1M2111 267h.1M2112 270h.1M2115 276h.1M2112 283h.1M2115 286h.1M2117 307h.1M2110 313h.1M2110 324h.1M2115 198h.1M2117 217h.1M2119 227h.1M2117 231h.1M2121 244h.1M2117 250h.1M2119 256h.1M2116 259h.1M2122 267h.1M2115 271h.1M2121 287h.1M2119 289h.1M2118 297h.1M2121 221h.1M2124 226h.1M2123 240h.1M2121 249h.1M2124 255h.1M2121 259h.1M2125 284h.1M2125 287h.1M2124 298h.1M2120 302h.1M2127 240h.1M2128 245h.1M2133 258h.1M2131 266h.1M2130 277h.1M2129 282h.1M2132 271h.1M2023 724h.1M2026 732h.1M2025 751h.1M2032 711h.1M2029 715h.1M2029 731h.1M2029 757h.1M2031 763h.1M2027 769h.1M2030 772h.1M2031 783h.1M2035 714h.1M2037 721h.1M2034 729h.1M2033 734h.1M2036 744h.1M2035 750h.1M2036 759h.1M2034 767h.1M2036 772h.1M2037 779h.1M2036 783h.1M2034 789h.1M2035 798h.1M2039 802h.1M2044 713h.1M2038 716h.1M2041 722h.1M2041 725h.1M2040 736h.1M2042 740h.1M2040 757h.1M2043 763h.1M2043 774h.1M2044 785h.1M2040 786h.1M2043 793h.1M2041 798h.1M2048 700h.1M2048 711h.1M2047 719h.1M2043 725h.1M2048 733h.1M2046 734h.1M2048 744h.1M2045 747h.1M2044 755h.1M2049 762h.1M2045 767h.1M2046 778h.1M2049 782h.1M2045 789h.1M2045 798h.1M2049 804h.1M2053 717h.1M2054 722h.1M2054 731h.1M2051 735h.1M2051 780h.1M2051 787h.1M2058 805h.1M2057 816h.1M2057 696h.1M2062 699h.1M2058 705h.1M2060 788h.1M2060 792h.1M2056 798h.1M2062 802h.1M2057 808h.1M2067 689h.1M2062 696h.1M2066 700h.1M2062 703h.1M2066 710h.1M2063 714h.1M2062 789h.1M2066 795h.1M2066 803h.1M2063 810h.1M2068 815h.1M2062 820h.1M2067 824h.1M2068 685h.1M2073 698h.1M2073 707h.1M2068 715h.1M2073 802h.1M2070 810h.1M2078 680h.1M2075 684h.1M2079 701h.1M2076 706h.1M2075 810h.1M2076 814h.1M2075 825h.1M2074 831h.1M2083 679h.1M2081 683h.1M2083 692h.1M2082 694h.1M2081 706h.1M2082 810h.1M2082 826h.1M2080 829h.1M2082 834h.1M2088 679h.1M2088 690h.1M2089 694h.1M2087 812h.1M2089 815h.1M2086 820h.1M2090 824h.1M2088 830h.1M2091 834h.1M2087 842h.1M2088 675h.1M2094 679h.1M2094 683h.1M2094 689h.1M2093 821h.1M2092 831h.1M2097 684h.1M2101 688h.1M2097 818h.1M2097 830h.1M2099 839h.1M2097 842h.1M2101 847h.1M2104 673h.1M2106 678h.1M2101 820h.1M2105 828h.1M2104 837h.1M2104 840h.1M2109 846h.1M2110 673h.1M2110 678h.1M2112 691h.1M2106 696h.1M2112 836h.1M2112 840h.1M2111 844h.1M2114 673h.1M2118 681h.1M2118 827h.1M2114 831h.1M2120 833h.1M2116 851h.1M2122 674h.1M2123 680h.1M2120 684h.1M2124 691h.1M2118 695h.1M2121 821h.1M2125 825h.1M2119 829h.1M2123 834h.1M2123 843h.1M2131 680h.1M2128 684h.1M2130 689h.1M2130 825h.1M2126 829h.1M2127 840h.1M2130 843h.1M2137 679h.1M2136 688h.1M2133 696h.1M2133 817h.1M2139 826h.1M2136 835h.1M2131 839h.1M2134 845h.1M2137 674h.1M2142 676h.1M2136 685h.1M2140 691h.1M2139 695h.1M2140 819h.1M2140 825h.1M2142 832h.1M2141 841h.1M2146 672h.1M2148 677h.1M2143 680h.1M2146 814h.1M2143 821h.1M2147 835h.1M2152 680h.1M2152 684h.1M2155 689h.1M2151 700h.1M2152 814h.1M2153 825h.1M2148 832h.1M2150 837h.1M2152 839h.1M2159 678h.1M2157 682h.1M2158 687h.1M2155 694h.1M2157 698h.1M2157 703h.1M2157 805h.1M2156 814h.1M2157 821h.1M2154 830h.1M2160 834h.1M2165 678h.1M2160 684h.1M2165 689h.1M2164 697h.1M2165 795h.1M2163 807h.1M2165 814h.1M2163 820h.1M2164 825h.1M2161 828h.1M2164 834h.1M2169 683h.1M2166 697h.1M2171 700h.1M2166 706h.1M2171 709h.1M2167 716h.1M2169 720h.1M2171 775h.1M2166 786h.1M2166 797h.1M2168 809h.1M2170 826h.1M2166 827h.1M2175 683h.1M2172 695h.1M2175 697h.1M2176 711h.1M2174 716h.1M2178 719h.1M2169 725h.1M2177 728h.1M2177 751h.1M2175 763h.1M2174 772h.1M2173 798h.1M2176 807h.1M2172 811h.1M2174 828h.1M2178 685h.1M2182 690h.1M2178 695h.1M2179 705h.1M2181 711h.1M2180 715h.1M2182 720h.1M2177 726h.1M2181 730h.1M2177 736h.1M2178 747h.1M2181 753h.1M2178 767h.1M2181 783h.1M2181 794h.1M2180 797h.1M2184 803h.1M2179 810h.1M2182 813h.1M2180 819h.1M2185 694h.1M2187 705h.1M2187 716h.1M2190 719h.1M2184 726h.1M2187 730h.1M2186 752h.1M2183 755h.1M2186 767h.1M2187 772h.1M2189 786h.1M2186 790h.1M2187 795h.1M2185 801h.1M2186 807h.1M2186 811h.1M2182 819h.1M2189 705h.1M2190 715h.1M2193 720h.1M2192 731h.1M2191 736h.1M2194 742h.1M2189 747h.1M2190 757h.1M2192 763h.1M2193 772h.1M2190 779h.1M2193 782h.1M2189 787h.1M2197 727h.1M2196 736h.1M2198 741h.1M2199 752h.1M2197 757h.1M2202 762h.1M2195 768h.1M2195 778h.1M2201 727h.1M2203 742h.1M2202 746h.1M2204 757h.1M2201 765h.1"/>
<path stroke="#4a36e0" d="M1969 255h.1M1976 287h.1M1972 291h.1M1980 296h.1M1983 243h.1M1986 247h.1M1986 276h.1M1986 287h.1M1988 251h.1M1991 270h.1M1989 282h.1M1989 303h.1M1995 230h.1M1997 298h.1M2002 314h.1M2012 197h.1M2022 215h.1M2017 313h.1M2023 190h.1M2024 208h.1M2031 339h.1M2039 206h.1M2044 328h.1M2043 338h.1M2060 198h.1M2065 188h.1M2063 322h.1M2068 329h.1M2069 339h.1M2075 330h.1M2080 182h.1M2081 339h.1M2086 330h.1M2079 333h.1M2087 338h.1M2088 196h.1M2086 334h.1M2098 338h.1M2101 219h.1M2106 207h.1M2113 195h.1M2110 238h.1M2109 252h.1M2110 304h.1M2115 282h.1M2125 233h.1M2124 267h.1M2123 293h.1M2129 262h.1M2025 739h.1M2029 744h.1M2034 749h.1M2040 764h.1M2042 754h.1M2040 766h.1M2048 721h.1M2047 752h.1M2053 701h.1M2053 771h.1M2053 782h.1M2052 799h.1M2051 808h.1M2055 716h.1M2059 814h.1M2064 798h.1M2071 691h.1M2070 697h.1M2067 797h.1M2071 819h.1M2077 708h.1M2083 699h.1M2080 820h.1M2087 685h.1M2095 827h.1M2093 839h.1M2101 677h.1M2099 695h.1M2105 691h.1M2104 824h.1M2108 828h.1M2116 688h.1M2113 694h.1M2119 846h.1M2116 841h.1M2128 695h.1M2140 830h.1M2145 840h.1M2149 820h.1M2158 825h.1M2161 705h.1M2163 804h.1M2171 679h.1M2170 688h.1M2171 795h.1M2168 805h.1M2172 708h.1M2173 768h.1M2178 782h.1M2172 820h.1M2178 761h.1M2189 710h.1M2189 763h.1M2195 747h.1M2203 738h.1"/>
<path stroke="#9a5a80" d="M1966 276h.1M1971 263h.1M1983 291h.1M1992 309h.1M1997 204h.1M1995 220h.1M2000 209h.1M2004 308h.1M2002 318h.1M2011 202h.1M2010 223h.1M2008 304h.1M2009 308h.1M2014 324h.1M2035 208h.1M2051 184h.1M2063 185h.1M2060 324h.1M2068 193h.1M2079 318h.1M2082 199h.1M2089 314h.1M2095 200h.1M2096 318h.1M2093 325h.1M2099 333h.1M2107 229h.1M2112 287h.1M2108 292h.1M2116 225h.1M2112 262h.1M2114 297h.1M2118 241h.1M2120 276h.1M2120 306h.1M2125 228h.1M2126 276h.1"/>
<path stroke="#b87850" d="M1982 226h.1M1979 229h.1M1985 268h.1M1983 281h.1M1988 209h.1M1996 242h.1M1997 289h.1M2002 215h.1M2003 290h.1M2008 215h.1M2007 297h.1M2014 214h.1M2047 198h.1M2054 179h.1M2053 328h.1M2057 186h.1M2084 184h.1M2086 195h.1M2101 311h.1M2108 220h.1M2114 247h.1M2117 211h.1M2120 213h.1M2124 246h.1M2026 763h.1M2028 735h.1M2033 742h.1M2032 724h.1M2038 795h.1M2043 705h.1M2047 775h.1M2055 791h.1M2072 824h.1M2073 694h.1M2078 835h.1M2096 673h.1M2100 827h.1M2106 696h.1M2108 685h.1M2115 825h.1M2134 697h.1M2148 690h.1M2149 695h.1M2164 708h.1M2168 822h.1M2174 688h.1M2171 776h.1M2174 789h.1M2176 793h.1M2179 699h.1M2181 772h.1M2188 740h.1"/>
<path stroke="#30a890" d="M1988 255h.1M1985 303h.1M1992 236h.1M2001 227h.1M2000 301h.1M2020 334h.1M2028 213h.1M2029 317h.1M2032 318h.1M2038 195h.1M2107 299h.1M2123 271h.1M2032 751h.1M2048 792h.1M2050 706h.1M2060 708h.1M2062 721h.1M2078 688h.1M2091 693h.1M2102 684h.1M2109 850h.1M2130 836h.1M2147 823h.1M2175 817h.1M2186 734h.1M2183 778h.1M2189 724h.1M2195 753h.1"/>
<path stroke="#6030dc" d="M1998 245h.1M2003 246h.1M2002 282h.1M2015 248h.1M2017 280h.1M2012 291h.1M2020 242h.1M2026 296h.1M2032 255h.1M2039 249h.1M2034 302h.1M2040 292h.1M2045 219h.1M2049 228h.1M2049 244h.1M2048 279h.1M2053 315h.1M2057 230h.1M2058 248h.1M2059 270h.1M2062 277h.1M2056 302h.1M2070 252h.1M2075 229h.1M2085 213h.1M2086 279h.1M2086 308h.1M2091 235h.1M2088 250h.1M2085 282h.1M2091 296h.1M2058 738h.1M2061 756h.1M2072 763h.1M2070 775h.1M2084 731h.1M2083 804h.1M2087 714h.1M2085 766h.1M2095 718h.1M2099 798h.1M2103 768h.1M2103 777h.1M2109 736h.1M2122 783h.1M2131 763h.1M2131 805h.1M2134 779h.1M2133 795h.1M2141 772h.1M2152 708h.1M2160 750h.1"/>
<path stroke="#ff1626" d="M1998 255h.1M1997 261h.1M1997 267h.1M1996 271h.1M1996 276h.1M1998 280h.1M1999 239h.1M2005 257h.1M2003 265h.1M2000 271h.1M2006 278h.1M2006 229h.1M2010 236h.1M2007 240h.1M2007 253h.1M2012 257h.1M2007 263h.1M2010 265h.1M2005 273h.1M2010 277h.1M2005 281h.1M2010 286h.1M2014 224h.1M2013 231h.1M2013 240h.1M2014 250h.1M2015 255h.1M2012 259h.1M2016 266h.1M2013 272h.1M2011 283h.1M2014 285h.1M2015 295h.1M2019 220h.1M2019 224h.1M2022 233h.1M2021 247h.1M2018 251h.1M2020 252h.1M2018 261h.1M2017 294h.1M2022 298h.1M2024 219h.1M2023 230h.1M2027 233h.1M2023 240h.1M2028 245h.1M2023 259h.1M2029 267h.1M2023 272h.1M2022 280h.1M2028 285h.1M2026 293h.1M2026 308h.1M2032 213h.1M2034 225h.1M2029 231h.1M2030 263h.1M2032 268h.1M2031 272h.1M2031 276h.1M2031 287h.1M2028 293h.1M2034 298h.1M2033 306h.1M2033 218h.1M2037 225h.1M2033 228h.1M2037 235h.1M2036 250h.1M2037 256h.1M2038 261h.1M2039 266h.1M2036 271h.1M2038 274h.1M2034 285h.1M2039 288h.1M2038 292h.1M2040 299h.1M2039 310h.1M2035 312h.1M2045 205h.1M2041 209h.1M2045 212h.1M2043 217h.1M2044 223h.1M2042 231h.1M2045 234h.1M2042 241h.1M2045 246h.1M2041 250h.1M2046 255h.1M2041 261h.1M2045 276h.1M2044 283h.1M2040 303h.1M2044 308h.1M2041 314h.1M2048 206h.1M2047 207h.1M2051 215h.1M2050 224h.1M2049 234h.1M2048 241h.1M2048 247h.1M2050 258h.1M2046 262h.1M2050 266h.1M2046 271h.1M2052 288h.1M2048 290h.1M2047 303h.1M2051 307h.1M2048 316h.1M2052 209h.1M2056 213h.1M2053 220h.1M2056 222h.1M2054 241h.1M2055 246h.1M2055 256h.1M2055 260h.1M2054 272h.1M2050 281h.1M2056 286h.1M2057 298h.1M2051 301h.1M2056 307h.1M2061 220h.1M2058 240h.1M2061 247h.1M2064 255h.1M2059 261h.1M2062 266h.1M2056 282h.1M2058 289h.1M2063 294h.1M2061 306h.1M2058 310h.1M2064 218h.1M2064 231h.1M2069 234h.1M2065 242h.1M2069 247h.1M2065 257h.1M2067 267h.1M2064 271h.1M2068 277h.1M2067 283h.1M2067 287h.1M2066 292h.1M2066 298h.1M2068 310h.1M2063 312h.1M2068 207h.1M2074 215h.1M2072 219h.1M2068 229h.1M2073 234h.1M2071 240h.1M2072 245h.1M2074 257h.1M2073 265h.1M2070 276h.1M2070 284h.1M2074 287h.1M2070 291h.1M2072 295h.1M2072 307h.1M2071 311h.1M2078 210h.1M2079 213h.1M2075 219h.1M2079 236h.1M2078 239h.1M2081 244h.1M2076 250h.1M2078 255h.1M2075 265h.1M2079 268h.1M2073 283h.1M2078 294h.1M2080 297h.1M2076 301h.1M2080 308h.1M2075 313h.1M2085 226h.1M2082 239h.1M2086 245h.1M2081 251h.1M2088 257h.1M2081 261h.1M2082 266h.1M2082 272h.1M2086 288h.1M2086 297h.1M2082 303h.1M2080 312h.1M2087 217h.1M2091 222h.1M2088 230h.1M2088 241h.1M2091 257h.1M2088 259h.1M2093 267h.1M2090 279h.1M2088 287h.1M2085 293h.1M2089 301h.1M2096 223h.1M2094 230h.1M2098 234h.1M2097 244h.1M2093 251h.1M2092 260h.1M2094 270h.1M2098 278h.1M2096 287h.1M2094 291h.1M2093 301h.1M2101 233h.1M2099 241h.1M2103 244h.1M2099 251h.1M2103 256h.1M2099 261h.1M2102 266h.1M2101 274h.1M2100 283h.1M2101 287h.1M2099 290h.1M2106 263h.1M2109 266h.1M2105 270h.1M2104 280h.1M2054 741h.1M2052 748h.1M2053 753h.1M2054 755h.1M2057 727h.1M2058 730h.1M2061 742h.1M2059 746h.1M2060 752h.1M2058 758h.1M2058 762h.1M2057 772h.1M2057 777h.1M2060 784h.1M2065 721h.1M2064 726h.1M2065 736h.1M2068 741h.1M2066 747h.1M2064 752h.1M2063 769h.1M2065 773h.1M2062 776h.1M2065 784h.1M2072 721h.1M2069 724h.1M2071 742h.1M2068 756h.1M2068 768h.1M2071 782h.1M2069 789h.1M2071 792h.1M2073 717h.1M2077 720h.1M2074 725h.1M2079 731h.1M2077 736h.1M2075 750h.1M2075 757h.1M2079 763h.1M2075 766h.1M2076 773h.1M2076 778h.1M2076 789h.1M2076 793h.1M2073 797h.1M2080 714h.1M2086 722h.1M2083 728h.1M2081 737h.1M2079 746h.1M2083 751h.1M2079 756h.1M2084 760h.1M2082 768h.1M2083 771h.1M2082 778h.1M2083 781h.1M2080 788h.1M2084 792h.1M2079 798h.1M2090 702h.1M2087 705h.1M2086 709h.1M2087 720h.1M2091 731h.1M2086 737h.1M2089 742h.1M2087 747h.1M2085 756h.1M2088 759h.1M2090 772h.1M2088 784h.1M2087 789h.1M2095 700h.1M2093 704h.1M2094 708h.1M2089 715h.1M2093 725h.1M2095 731h.1M2091 736h.1M2097 740h.1M2092 746h.1M2094 757h.1M2093 761h.1M2089 768h.1M2095 773h.1M2093 777h.1M2093 783h.1M2090 788h.1M2095 792h.1M2092 799h.1M2095 803h.1M2093 807h.1M2095 813h.1M2096 704h.1M2100 712h.1M2098 713h.1M2100 719h.1M2097 724h.1M2102 730h.1M2102 744h.1M2097 746h.1M2101 753h.1M2095 759h.1M2100 762h.1M2100 774h.1M2097 778h.1M2102 784h.1M2098 790h.1M2098 794h.1M2098 812h.1M2099 813h.1M2107 702h.1M2103 705h.1M2106 713h.1M2101 715h.1M2106 722h.1M2103 726h.1M2105 730h.1M2104 736h.1M2105 742h.1M2104 745h.1M2108 752h.1M2104 759h.1M2104 762h.1M2104 774h.1M2108 782h.1M2104 789h.1M2105 793h.1M2103 798h.1M2105 804h.1M2105 807h.1M2106 814h.1M2115 701h.1M2109 707h.1M2114 710h.1M2110 715h.1M2113 721h.1M2110 725h.1M2110 730h.1M2113 740h.1M2110 746h.1M2113 750h.1M2113 763h.1M2113 772h.1M2111 778h.1M2112 784h.1M2111 789h.1M2111 792h.1M2109 798h.1M2113 806h.1M2110 808h.1M2113 815h.1M2109 820h.1M2119 699h.1M2116 707h.1M2117 710h.1M2112 712h.1M2116 719h.1M2112 725h.1M2116 732h.1M2112 737h.1M2119 741h.1M2117 745h.1M2116 757h.1M2118 763h.1M2120 773h.1M2114 778h.1M2115 787h.1M2116 799h.1M2118 805h.1M2117 813h.1M2116 818h.1M2122 705h.1M2126 709h.1M2120 714h.1M2122 720h.1M2124 734h.1M2121 737h.1M2124 743h.1M2121 749h.1M2125 753h.1M2119 754h.1M2125 763h.1M2122 770h.1M2122 771h.1M2120 779h.1M2125 783h.1M2121 789h.1M2122 796h.1M2123 803h.1M2121 810h.1M2124 815h.1M2127 702h.1M2128 706h.1M2129 710h.1M2128 715h.1M2129 722h.1M2126 726h.1M2129 732h.1M2126 736h.1M2127 739h.1M2125 747h.1M2129 751h.1M2128 755h.1M2126 765h.1M2128 773h.1M2127 778h.1M2129 786h.1M2125 787h.1M2130 791h.1M2129 799h.1M2127 807h.1M2126 818h.1M2134 704h.1M2134 709h.1M2133 714h.1M2135 720h.1M2132 727h.1M2137 731h.1M2130 735h.1M2134 743h.1M2134 746h.1M2132 752h.1M2130 756h.1M2135 762h.1M2133 770h.1M2136 781h.1M2133 787h.1M2133 797h.1M2134 804h.1M2132 810h.1M2138 816h.1M2143 699h.1M2140 704h.1M2142 709h.1M2140 715h.1M2141 718h.1M2139 727h.1M2141 732h.1M2138 737h.1M2142 742h.1M2138 744h.1M2142 753h.1M2139 756h.1M2144 763h.1M2140 768h.1M2138 777h.1M2141 783h.1M2138 788h.1M2142 793h.1M2139 798h.1M2141 804h.1M2138 809h.1M2142 812h.1M2146 700h.1M2143 705h.1M2147 713h.1M2144 715h.1M2148 719h.1M2145 728h.1M2146 731h.1M2143 738h.1M2146 748h.1M2147 753h.1M2145 758h.1M2147 763h.1M2147 774h.1M2144 777h.1M2145 790h.1M2148 795h.1M2144 798h.1M2147 805h.1M2144 811h.1M2152 707h.1M2146 718h.1M2154 721h.1M2150 726h.1M2150 729h.1M2150 737h.1M2154 742h.1M2150 748h.1M2153 751h.1M2152 755h.1M2149 768h.1M2150 778h.1M2154 783h.1M2148 787h.1M2153 792h.1M2152 803h.1M2149 809h.1M2159 710h.1M2156 713h.1M2158 719h.1M2156 727h.1M2161 729h.1M2155 736h.1M2157 742h.1M2156 746h.1M2152 757h.1M2159 762h.1M2156 768h.1M2158 774h.1M2158 776h.1M2158 788h.1M2157 790h.1M2158 798h.1M2161 716h.1M2164 719h.1M2166 731h.1M2163 741h.1M2160 746h.1M2165 754h.1M2158 757h.1M2163 761h.1M2160 779h.1M2159 789h.1M2158 799h.1M2168 728h.1M2169 732h.1M2166 738h.1M2171 739h.1M2169 745h.1M2169 751h.1M2167 756h.1M2171 762h.1M2165 768h.1M2167 778h.1M2172 735h.1M2176 745h.1M2172 747h.1M2175 755h.1M2176 757h.1"/>
<path stroke="#a85a78" d="M1999 258h.1M2009 247h.1M2014 235h.1M2020 229h.1M2021 277h.1M2032 234h.1M2033 246h.1M2029 251h.1M2044 287h.1M2042 297h.1M2048 281h.1M2055 236h.1M2054 250h.1M2057 275h.1M2058 210h.1M2060 215h.1M2061 225h.1M2061 235h.1M2058 293h.1M2066 215h.1M2067 224h.1M2072 224h.1M2070 302h.1M2074 271h.1M2078 275h.1M2089 216h.1M2090 249h.1M2087 270h.1M2097 254h.1M2098 266h.1M2103 280h.1"/>
<path stroke="#cc6a48" d="M2024 268h.1M2022 288h.1M2051 298h.1M2053 230h.1M2063 249h.1M2064 304h.1M2072 274h.1M2084 234h.1M2083 281h.1M2094 241h.1M2100 230h.1M2067 760h.1M2074 730h.1M2069 748h.1M2076 740h.1M2079 740h.1M2087 779h.1M2086 794h.1M2100 700h.1M2100 806h.1M2112 759h.1M2118 751h.1M2121 725h.1M2119 799h.1M2148 785h.1"/>
<path stroke="#cc2050" d="M2172 244h.1M2176 293h.1M2182 260h.1M2184 297h.1M2196 207h.1M2197 236h.1M2197 276h.1M2200 261h.1M2201 267h.1M2204 297h.1M2211 261h.1M2217 238h.1M2213 271h.1M2220 240h.1M2221 248h.1M2222 256h.1M2219 263h.1M2229 279h.1M2226 281h.1M2237 318h.1M2239 210h.1M2241 246h.1M2236 301h.1M2249 213h.1M2252 277h.1M2258 219h.1M2256 285h.1M2261 266h.1M2266 249h.1M2269 276h.1M2279 236h.1M2282 281h.1M2236 117h.1M2240 78h.1M2259 58h.1M2257 76h.1M2253 140h.1M2263 77h.1M2265 136h.1M2265 54h.1M2270 108h.1M2271 51h.1M2273 73h.1M2272 112h.1M2281 117h.1M2274 134h.1M2280 161h.1M2289 137h.1M2288 113h.1M2290 124h.1M2292 83h.1M2297 139h.1M2302 87h.1M2308 127h.1M2315 76h.1M2317 33h.1M2317 96h.1M2320 32h.1M2323 102h.1M2325 128h.1M2333 77h.1M2330 98h.1M2340 75h.1M2361 61h.1M2367 72h.1M1875 80h.1M1884 113h.1M1892 55h.1M1899 108h.1M1899 143h.1M1901 62h.1M1911 55h.1M1912 137h.1M1912 62h.1M1918 80h.1M1914 130h.1M1919 103h.1M1924 119h.1M1927 92h.1M1924 105h.1M1925 123h.1M1931 53h.1M1929 139h.1M1936 93h.1M2126 499h.1M2123 528h.1M2141 499h.1M2140 573h.1M2145 532h.1M2149 493h.1M2149 531h.1M2153 547h.1M2152 557h.1M2159 497h.1M2158 545h.1M2163 501h.1M2174 485h.1M2175 577h.1M2186 547h.1M2182 566h.1M2194 539h.1M2196 537h.1M2202 514h.1M2207 536h.1M2217 550h.1M2222 520h.1M2232 543h.1M1920 610h.1M1918 632h.1M1925 620h.1M1928 659h.1M1933 610h.1M1935 632h.1M1947 641h.1M1952 598h.1M1956 604h.1M1961 647h.1M1992 657h.1M2290 640h.1M2297 641h.1M2297 691h.1M2302 683h.1M2303 695h.1M2312 681h.1M2321 647h.1M2337 691h.1M2344 654h.1M1898 1005h.1M1906 963h.1M1912 1004h.1M1915 962h.1M1914 979h.1M1922 951h.1M1927 962h.1M1933 1013h.1M1934 969h.1M1940 982h.1M2266 1004h.1M2281 1020h.1M2295 965h.1M2291 989h.1M2294 1032h.1M2304 977h.1M2318 969h.1M2323 973h.1M2323 1015h.1M2341 987h.1M2342 1017h.1M2350 1016h.1M1921 271h.1M1954 231h.1M2072 65h.1M2079 40h.1M2093 80h.1M2100 45h.1M2105 103h.1M2103 110h.1"/>
<path stroke="#7430c0" d="M2172 285h.1M2177 226h.1M2176 270h.1M2188 224h.1M2194 257h.1M2192 264h.1M2195 265h.1M2195 296h.1M2201 217h.1M2198 271h.1M2200 281h.1M2208 224h.1M2204 251h.1M2211 266h.1M2216 255h.1M2216 293h.1M2216 301h.1M2217 307h.1M2223 268h.1M2224 230h.1M2226 241h.1M2229 306h.1M2234 225h.1M2236 237h.1M2237 246h.1M2234 260h.1M2241 269h.1M2240 296h.1M2242 250h.1M2244 286h.1M2244 229h.1M2249 242h.1M2250 261h.1M2248 292h.1M2259 225h.1M2253 247h.1M2256 308h.1M2256 312h.1M2263 215h.1M2282 276h.1M2235 96h.1M2243 105h.1M2242 116h.1M2249 78h.1M2244 80h.1M2245 106h.1M2243 132h.1M2252 95h.1M2251 128h.1M2258 67h.1M2256 90h.1M2257 96h.1M2253 124h.1M2269 38h.1M2269 148h.1M2271 80h.1M2273 121h.1M2280 89h.1M2281 159h.1M2280 62h.1M2282 72h.1M2284 134h.1M2292 46h.1M2288 92h.1M2291 103h.1M2290 133h.1M2290 148h.1M2295 31h.1M2296 49h.1M2303 40h.1M2309 98h.1M2308 135h.1M2308 174h.1M2313 47h.1M2312 127h.1M2320 55h.1M2318 76h.1M2318 117h.1M2317 146h.1M2325 36h.1M2323 50h.1M2324 84h.1M2326 87h.1M2325 96h.1M2322 165h.1M2330 128h.1M2332 146h.1M2332 62h.1M2333 72h.1M2336 89h.1M2337 130h.1M2340 122h.1M2348 146h.1M2353 77h.1M2352 81h.1M2351 92h.1M2359 58h.1M2359 106h.1M2354 112h.1M1880 62h.1M1878 93h.1M1891 54h.1M1885 131h.1M1899 67h.1M1898 130h.1M1902 76h.1M1907 88h.1M1903 94h.1M1903 114h.1M1907 138h.1M1913 66h.1M1908 101h.1M1917 87h.1M1915 90h.1M1918 107h.1M1917 115h.1M1915 124h.1M1922 38h.1M1918 92h.1M1924 107h.1M1924 128h.1M1927 54h.1M1925 71h.1M1927 83h.1M1930 88h.1M1933 59h.1M1932 85h.1M1933 96h.1M1938 38h.1M1938 96h.1M1938 121h.1M1945 98h.1M1949 46h.1M1947 63h.1M1951 142h.1M1961 56h.1M1960 82h.1M1960 113h.1M1963 118h.1M2103 538h.1M2111 518h.1M2117 522h.1M2128 534h.1M2141 507h.1M2146 536h.1M2146 577h.1M2152 520h.1M2155 579h.1M2156 534h.1M2157 541h.1M2157 559h.1M2161 481h.1M2161 583h.1M2167 512h.1M2164 600h.1M2173 490h.1M2172 554h.1M2179 579h.1M2181 598h.1M2186 536h.1M2189 541h.1M2188 553h.1M2190 568h.1M2194 533h.1M2199 555h.1M2192 561h.1M2198 523h.1M2202 566h.1M2220 560h.1M2230 517h.1M2237 529h.1M1892 635h.1M1920 596h.1M1929 690h.1M1934 695h.1M1960 659h.1M1969 659h.1M1984 659h.1M2257 656h.1M2298 695h.1M2312 651h.1M2317 666h.1M2331 691h.1M2335 640h.1M2339 680h.1M1888 983h.1M1912 973h.1M1911 1015h.1M1917 974h.1M1921 994h.1M1922 1012h.1M1923 1000h.1M1930 998h.1M1940 942h.1M1939 993h.1M1947 1007h.1M1958 969h.1M1959 988h.1M1962 957h.1M2266 973h.1M2269 1005h.1M2281 982h.1M2288 1005h.1M2290 967h.1M2299 931h.1M2300 954h.1M2299 980h.1M2303 976h.1M2303 1032h.1M2310 963h.1M2308 966h.1M2312 982h.1M2311 992h.1M2308 1000h.1M2316 965h.1M2317 983h.1M2314 994h.1M2320 963h.1M2316 987h.1M2320 994h.1M2333 944h.1M2329 969h.1M2335 988h.1M2334 1008h.1M2346 958h.1M2353 997h.1M2351 1008h.1M2352 1018h.1M2368 993h.1M1951 262h.1M1981 256h.1M2100 60h.1"/>
<path stroke="#a42488" d="M2184 225h.1M2179 231h.1M2191 291h.1M2201 256h.1M2200 297h.1M2200 307h.1M2203 237h.1M2205 260h.1M2209 219h.1M2218 295h.1M2218 316h.1M2221 231h.1M2224 294h.1M2231 266h.1M2234 256h.1M2239 236h.1M2241 255h.1M2247 256h.1M2242 282h.1M2251 226h.1M2251 246h.1M2251 287h.1M2254 233h.1M2256 277h.1M2260 238h.1M2259 250h.1M2260 304h.1M2267 256h.1M2265 262h.1M2273 298h.1M2278 248h.1M2276 262h.1M2230 77h.1M2236 135h.1M2241 102h.1M2246 70h.1M2252 117h.1M2258 49h.1M2255 82h.1M2255 134h.1M2271 66h.1M2270 78h.1M2270 96h.1M2266 101h.1M2268 123h.1M2274 67h.1M2275 78h.1M2274 95h.1M2273 102h.1M2275 118h.1M2274 152h.1M2277 92h.1M2284 93h.1M2286 109h.1M2285 128h.1M2283 143h.1M2293 37h.1M2291 56h.1M2289 61h.1M2288 141h.1M2296 115h.1M2297 147h.1M2301 92h.1M2302 139h.1M2303 147h.1M2298 173h.1M2309 77h.1M2305 81h.1M2306 142h.1M2309 169h.1M2310 94h.1M2315 93h.1M2317 123h.1M2318 132h.1M2319 158h.1M2328 104h.1M2329 113h.1M2328 123h.1M2328 163h.1M2335 81h.1M2335 94h.1M2332 162h.1M2347 76h.1M2343 92h.1M2345 118h.1M2343 151h.1M2349 51h.1M2351 63h.1M2353 137h.1M2363 76h.1M2363 83h.1M2362 93h.1M1885 67h.1M1891 96h.1M1894 99h.1M1902 56h.1M1900 87h.1M1903 99h.1M1912 77h.1M1920 141h.1M1926 62h.1M1926 66h.1M1928 78h.1M1934 42h.1M1931 64h.1M1933 105h.1M1936 71h.1M1938 106h.1M1938 128h.1M1936 129h.1M1944 80h.1M1943 107h.1M1941 111h.1M1942 139h.1M1939 142h.1M1947 71h.1M1949 76h.1M1946 122h.1M1954 113h.1M1958 121h.1M1976 73h.1M1976 82h.1M1980 93h.1M2105 527h.1M2115 561h.1M2120 503h.1M2122 543h.1M2123 582h.1M2130 557h.1M2127 584h.1M2132 534h.1M2133 542h.1M2138 489h.1M2141 537h.1M2143 546h.1M2148 566h.1M2150 503h.1M2159 528h.1M2154 594h.1M2161 541h.1M2171 487h.1M2167 542h.1M2168 564h.1M2172 502h.1M2174 537h.1M2173 542h.1M2186 496h.1M2183 502h.1M2185 551h.1M2188 533h.1M2202 497h.1M2199 544h.1M2205 483h.1M2217 531h.1M2219 576h.1M1924 651h.1M1936 648h.1M1936 692h.1M1941 640h.1M1955 588h.1M1959 635h.1M1959 591h.1M1957 609h.1M1958 634h.1M1962 654h.1M1968 644h.1M1964 671h.1M1963 691h.1M1973 655h.1M1979 604h.1M1974 670h.1M1983 604h.1M1989 641h.1M2275 636h.1M2287 679h.1M2302 635h.1M2308 645h.1M2322 669h.1M2328 665h.1M2348 671h.1M2343 674h.1M1883 983h.1M1887 959h.1M1894 975h.1M1891 990h.1M1890 1000h.1M1907 939h.1M1904 954h.1M1912 983h.1M1917 934h.1M1917 1005h.1M1918 958h.1M1916 987h.1M1926 957h.1M1930 970h.1M1939 951h.1M1941 948h.1M1944 951h.1M1949 977h.1M1953 970h.1M1955 972h.1M1955 993h.1M1963 964h.1M1961 984h.1M2259 963h.1M2257 977h.1M2263 998h.1M2270 1003h.1M2276 990h.1M2280 938h.1M2283 952h.1M2280 957h.1M2289 937h.1M2292 999h.1M2297 925h.1M2296 937h.1M2299 965h.1M2299 992h.1M2301 988h.1M2301 1027h.1M2312 1012h.1M2311 969h.1M2313 979h.1M2323 985h.1M2324 949h.1M2326 965h.1M2328 991h.1M2327 1026h.1M2332 1014h.1M2339 961h.1M2345 950h.1M2344 972h.1M2342 998h.1M2347 945h.1M2350 951h.1M2347 1000h.1M1925 236h.1M1922 259h.1M1943 266h.1M1959 274h.1M1978 246h.1M2051 49h.1M2070 71h.1M2072 67h.1M2083 93h.1M2100 112h.1"/>
<path stroke="#8c6888" d="M2190 213h.1M2190 256h.1M2187 302h.1M2196 287h.1M2197 235h.1M2209 232h.1M2213 246h.1M2214 210h.1M2221 223h.1M2227 252h.1M2225 272h.1M2246 228h.1M2241 310h.1M2249 270h.1M2260 211h.1M2258 280h.1M2272 271h.1M2278 255h.1M2229 109h.1M2247 147h.1M2254 56h.1M2265 88h.1M2264 128h.1M2274 147h.1M2282 83h.1M2284 122h.1M2288 31h.1M2292 64h.1M2295 57h.1M2294 103h.1M2311 82h.1M2313 158h.1M2317 63h.1M2317 88h.1M2323 42h.1M2324 143h.1M2328 92h.1M2330 154h.1M2358 126h.1M2358 136h.1M2362 72h.1M2367 114h.1M2369 123h.1M1871 106h.1M1880 86h.1M1895 76h.1M1893 100h.1M1903 51h.1M1906 82h.1M1907 98h.1M1910 92h.1M1917 68h.1M1914 114h.1M1920 62h.1M1958 72h.1M2119 507h.1M2125 516h.1M2123 559h.1M2134 536h.1M2136 593h.1M2168 529h.1M2170 548h.1M2170 557h.1M2179 553h.1M2211 531h.1M2210 582h.1M1905 624h.1M1935 639h.1M1959 667h.1M1992 621h.1M2262 692h.1M2276 705h.1M2289 690h.1M2329 670h.1M2326 686h.1M2334 680h.1M1921 1001h.1M1925 977h.1M1942 997h.1M2259 973h.1M2305 978h.1M2315 953h.1M2312 1008h.1M2322 1004h.1M2340 993h.1M2336 1018h.1M2344 1012h.1M2354 994h.1M2355 980h.1M1947 256h.1"/>
<path stroke="#1898b8" d="M2188 285h.1M2210 269h.1M2221 218h.1M2221 244h.1M2282 272h.1M2241 93h.1M2252 46h.1M2261 84h.1M2271 116h.1M2294 63h.1M2303 107h.1M2305 52h.1M2312 73h.1M2329 39h.1M2342 148h.1M2344 73h.1M2356 144h.1M1895 91h.1M1912 47h.1M1919 124h.1M1939 118h.1M1961 106h.1M2143 521h.1M2143 604h.1M2178 532h.1M2179 538h.1M2181 557h.1M2182 589h.1M1963 651h.1M2342 695h.1M1910 988h.1M1918 1014h.1M1936 988h.1M1940 979h.1M2271 963h.1M2285 1008h.1M2290 960h.1M2325 1020h.1M2337 958h.1M1943 248h.1"/>
</g>
<g filter="url(#b)" fill="none"><path d="M2351 170v4M2351 189v4M2351 206v8M2351 220v6M2351 231v4M2351 248v6M2351 268v8M2351 288v3M2351 303v4M2351 322v4M2351 343v5M2351 360v7M2351 376v7M2351 397v8M2351 418v8M2351 430v4M2351 443v5M2351 462v9M2351 481v8M2351 497v6M2351 510v7M2351 527v4M2351 544v9M2351 565v4M2351 584v8M2351 602v3M2351 614v3M2351 626v5M2351 637v5M2351 653v8M2351 669v4M2351 684v3M2351 697v3M2351 718v6M2351 732v7M2351 746v3M2351 760v9M2351 782v8M2351 799v4M2351 814v5M2351 831v5M2351 842v9M2351 860v8M2351 878v5M2351 887v5M2351 908v4M2351 927v9M2351 949v8M2351 962v8M2351 974v4M2351 992v6" stroke="#b4acff" stroke-width="4.5"/>
<path d="M1907 1003.5H2352" stroke="#08a0ec" stroke-width="4"/></g>
<path d="M1907.5 44V1005" stroke="#6f7cff" stroke-width="2"/>
<path d="M1907 44.5H2352" stroke="#4f6cff" stroke-width="1.5"/>
</g>
</svg></body></html>
